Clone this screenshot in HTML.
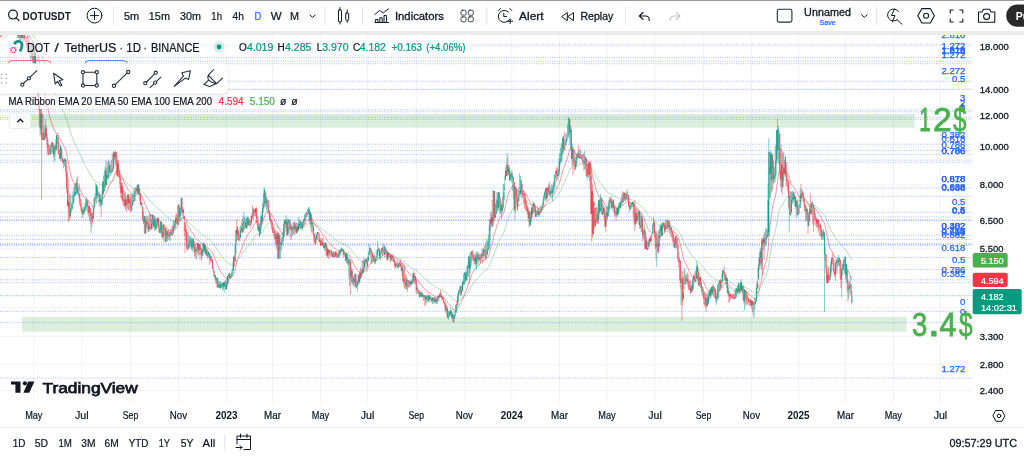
<!DOCTYPE html>
<html><head><meta charset="utf-8"><title>DOTUSDT chart</title>
<style>html,body{margin:0;padding:0;background:#fff;overflow:hidden;width:1024px;height:457px}svg{display:block}</style>
</head><body><svg width="1024" height="457" viewBox="0 0 1024 457"><rect width="1024" height="457" fill="#fff"/><defs><clipPath id="cc"><rect x="0" y="35" width="972.5" height="368.5"/></clipPath></defs><g clip-path="url(#cc)"><path d="M33.8 35V403.5M81.8 35V403.5M130.5 35V403.5M178.5 35V403.5M226.5 35V403.5M272.5 35V403.5M320.5 35V403.5M367.5 35V403.5M416.3 35V403.5M464.3 35V403.5M511.8 35V403.5M559.5 35V403.5M607.0 35V403.5M655.0 35V403.5M703.5 35V403.5M751.5 35V403.5M798.6 35V403.5M845.6 35V403.5M893.3 35V403.5M940.4 35V403.5M0 46.4H972.5M0 89.3H972.5M0 115.7H972.5M0 146.8H972.5M0 184.9H972.5M0 220.4H972.5M0 248.9H972.5M0 307.7H972.5M0 336.2H972.5M0 364.3H972.5M0 390.6H972.5" stroke="#f2f3f5" stroke-width="1" fill="none"/><rect x="15.7" y="113.9" width="898.8" height="13.8" fill="#4caf50" fill-opacity="0.2"/><rect x="22" y="317" width="884.6" height="14.7" fill="#4caf50" fill-opacity="0.2"/><g stroke="#2962ff" stroke-opacity="0.38" stroke-width="1" stroke-dasharray="1 1.3" fill="none"><path d="M0 44.8H972.5"/><path d="M0 57.4H972.5"/><path d="M0 61.3H972.5"/><path d="M0 63.7H972.5"/><path d="M0 81.3H972.5"/><path d="M0 89.3H972.5"/><path d="M0 109.8H972.5"/><path d="M0 111.7H972.5"/><path d="M0 117.5H972.5"/><path d="M0 119.4H972.5"/><path d="M0 144.2H972.5"/><path d="M0 150.5H972.5"/><path d="M0 154.4H972.5"/><path d="M0 160.2H972.5"/><path d="M0 162.3H972.5"/><path d="M0 188.1H972.5"/><path d="M0 196.3H972.5"/><path d="M0 212.3H972.5"/><path d="M0 216.9H972.5"/><path d="M0 219.8H972.5"/><path d="M0 220.6H972.5"/><path d="M0 235.3H972.5"/><path d="M0 239.5H972.5"/><path d="M0 243.6H972.5"/><path d="M0 244.5H972.5"/><path d="M0 245.4H972.5"/><path d="M0 257.5H972.5"/><path d="M0 269.4H972.5"/><path d="M0 279.8H972.5"/><path d="M0 282.7H972.5"/><path d="M0 311.4H972.5"/><path d="M0 322.6H972.5"/><path d="M0 378.1H972.5"/></g><path d="M0 295.7H972.5" stroke="#089981" stroke-opacity="0.5" stroke-width="1" stroke-dasharray="1 1.3"/><polyline points="0.1,40.2 0.9,39.9 1.7,39.4 2.5,39.0 3.2,38.7 4.0,37.6 4.8,36.9 5.6,36.3 6.4,36.0 7.2,35.3 7.9,34.2 8.7,33.4 9.5,33.1 10.3,32.0 11.1,31.4 11.9,30.8 12.6,29.8 13.4,28.9 14.2,28.2 15.0,27.0 15.8,26.7 16.6,26.7 17.3,26.9 18.1,27.2 18.9,26.8 19.7,27.4 20.5,27.8 21.3,27.9 22.0,28.3 22.8,28.6 23.6,28.6 24.4,29.0 25.2,29.4 26.0,29.8 26.7,30.4 27.5,30.8 28.3,31.4 29.1,32.1 29.9,32.9 30.7,33.6 31.4,34.2 32.2,34.6 33.0,35.6 33.8,36.6 34.6,37.1 35.4,38.4 36.2,39.6 36.9,40.8 37.7,42.3 38.5,44.3 39.3,46.4 40.1,49.0 40.9,51.1 41.6,53.8 42.4,56.5 43.2,58.9 44.0,61.5 44.8,63.9 45.6,66.0 46.3,68.3 47.1,70.8 47.9,73.3 48.7,75.9 49.5,78.4 50.3,80.6 51.0,82.8 51.8,84.8 52.6,86.8 53.4,89.0 54.2,91.0 55.0,92.9 55.7,94.8 56.5,96.2 57.3,97.6 58.1,99.4 58.9,101.2 59.7,103.1 60.4,104.6 61.2,106.4 62.0,108.2 62.8,110.1 63.6,111.8 64.4,113.4 65.1,115.0 65.9,116.9 66.7,119.2 67.5,121.9 68.3,124.5 69.1,127.3 69.8,130.1 70.6,132.5 71.4,135.0 72.2,137.2 73.0,139.4 73.8,141.2 74.5,143.0 75.3,144.7 76.1,146.1 76.9,147.5 77.7,149.1 78.5,150.7 79.2,152.4 80.0,154.1 80.8,155.9 81.6,157.8 82.4,159.6 83.2,161.4 84.0,163.1 84.7,164.6 85.5,166.1 86.3,167.3 87.1,168.5 87.9,169.9 88.7,171.4 89.4,172.6 90.2,174.1 91.0,175.5 91.8,177.0 92.6,178.6 93.4,179.6 94.1,180.3 94.9,181.0 95.7,181.6 96.5,181.7 97.3,182.2 98.1,182.7 98.8,183.1 99.6,183.8 100.4,184.4 101.2,185.2 102.0,185.5 102.8,185.4 103.5,185.7 104.3,185.8 105.1,185.2 105.9,185.2 106.7,184.8 107.5,184.5 108.2,184.0 109.0,183.2 109.8,182.7 110.6,182.3 111.4,181.9 112.2,181.4 112.9,181.0 113.7,179.7 114.5,178.8 115.3,177.7 116.1,176.9 116.9,176.8 117.6,176.3 118.4,176.1 119.2,176.0 120.0,176.3 120.8,177.0 121.6,177.3 122.3,178.1 123.1,179.0 123.9,179.7 124.7,180.7 125.5,181.4 126.3,182.2 127.0,183.0 127.8,183.4 128.6,184.2 129.4,184.7 130.2,185.4 131.0,186.4 131.8,187.1 132.5,187.6 133.3,188.1 134.1,188.6 134.9,188.7 135.7,188.7 136.5,188.8 137.2,188.6 138.0,188.8 138.8,188.7 139.6,188.8 140.4,189.4 141.2,190.0 141.9,190.5 142.7,191.5 143.5,192.6 144.3,193.5 145.1,194.9 145.9,195.9 146.6,196.9 147.4,197.8 148.2,199.0 149.0,200.0 149.8,201.0 150.6,202.0 151.3,202.9 152.1,203.3 152.9,203.9 153.7,204.7 154.5,205.3 155.3,206.2 156.0,206.9 156.8,207.5 157.6,207.9 158.4,208.6 159.2,209.5 160.0,210.3 160.7,210.7 161.5,211.5 162.3,212.4 163.1,212.9 163.9,213.4 164.7,214.0 165.4,215.1 166.2,216.0 167.0,216.6 167.8,217.3 168.6,218.0 169.4,218.6 170.1,219.1 170.9,219.6 171.7,220.2 172.5,220.7 173.3,221.0 174.1,221.3 174.8,221.3 175.6,221.2 176.4,221.2 177.2,221.3 178.0,220.6 178.8,220.1 179.5,219.9 180.3,219.6 181.1,218.7 181.9,218.4 182.7,218.1 183.5,217.8 184.3,217.8 185.0,218.3 185.8,218.8 186.6,219.8 187.4,220.9 188.2,221.8 189.0,222.6 189.7,223.2 190.5,223.8 191.3,224.7 192.1,225.5 192.9,226.0 193.7,226.8 194.4,227.7 195.2,228.5 196.0,229.3 196.8,230.0 197.6,230.5 198.4,231.3 199.1,231.8 199.9,232.4 200.7,233.0 201.5,233.8 202.3,234.5 203.1,234.8 203.8,235.4 204.6,235.8 205.4,236.5 206.2,237.0 207.0,237.7 207.8,238.3 208.5,238.8 209.3,239.5 210.1,240.2 210.9,240.9 211.7,241.6 212.5,242.6 213.2,243.5 214.0,244.7 214.8,245.8 215.6,247.0 216.4,248.1 217.2,249.5 217.9,250.8 218.7,251.9 219.5,253.2 220.3,254.3 221.1,255.5 221.9,256.6 222.6,257.6 223.4,258.6 224.2,259.5 225.0,260.4 225.8,261.4 226.6,262.2 227.3,262.7 228.1,263.3 228.9,263.7 229.7,264.2 230.5,264.6 231.3,265.1 232.1,265.4 232.8,265.5 233.6,265.2 234.4,265.0 235.2,264.1 236.0,262.6 236.8,261.4 237.5,259.9 238.3,259.0 239.1,258.2 239.9,257.5 240.7,256.3 241.5,255.1 242.2,254.2 243.0,252.8 243.8,251.5 244.6,250.2 245.4,249.3 246.2,248.4 246.9,247.1 247.7,246.2 248.5,245.1 249.3,244.1 250.1,243.3 250.9,242.6 251.6,241.5 252.4,240.4 253.2,239.1 254.0,237.8 254.8,236.8 255.6,235.5 256.3,234.9 257.1,234.4 257.9,234.2 258.7,233.9 259.5,234.0 260.3,233.7 261.0,233.0 261.8,232.6 262.6,231.6 263.4,230.4 264.2,228.6 265.0,227.1 265.7,226.1 266.5,225.0 267.3,224.0 268.1,223.5 268.9,223.1 269.7,222.9 270.4,222.9 271.2,222.8 272.0,223.0 272.8,223.4 273.6,223.7 274.4,224.1 275.1,224.6 275.9,225.0 276.7,225.7 277.5,226.0 278.3,227.2 279.1,227.5 279.9,228.1 280.6,228.6 281.4,229.2 282.2,229.8 283.0,230.0 283.8,229.8 284.6,229.4 285.3,229.2 286.1,228.9 286.9,229.1 287.7,228.8 288.5,228.5 289.3,228.1 290.0,228.1 290.8,228.1 291.6,228.2 292.4,228.2 293.2,228.3 294.0,228.1 294.7,228.0 295.5,228.1 296.3,228.3 297.1,228.2 297.9,228.3 298.7,228.1 299.4,228.1 300.2,227.8 301.0,227.7 301.8,227.7 302.6,227.5 303.4,227.2 304.1,226.9 304.9,226.4 305.7,225.9 306.5,225.4 307.3,224.9 308.1,224.2 308.8,223.5 309.6,223.4 310.4,223.0 311.2,223.0 312.0,223.1 312.8,223.1 313.5,223.5 314.3,224.0 315.1,224.8 315.9,225.3 316.7,225.7 317.5,225.9 318.2,226.2 319.0,226.8 319.8,227.3 320.6,228.0 321.4,228.5 322.2,229.1 322.9,229.7 323.7,230.3 324.5,230.9 325.3,231.3 326.1,232.0 326.9,232.8 327.6,233.4 328.4,234.2 329.2,234.8 330.0,235.4 330.8,235.9 331.6,236.6 332.4,237.4 333.1,238.0 333.9,238.7 334.7,239.3 335.5,239.8 336.3,240.4 337.1,241.0 337.8,241.6 338.6,242.0 339.4,242.4 340.2,242.8 341.0,243.0 341.8,243.2 342.5,243.5 343.3,243.9 344.1,244.2 344.9,244.6 345.7,245.2 346.5,245.5 347.2,246.1 348.0,246.7 348.8,247.2 349.6,247.7 350.4,248.7 351.2,249.5 351.9,250.7 352.7,251.7 353.5,252.7 354.3,253.8 355.1,254.5 355.9,255.7 356.6,256.7 357.4,257.7 358.2,258.3 359.0,259.2 359.8,259.7 360.6,260.4 361.3,261.0 362.1,261.3 362.9,261.7 363.7,262.0 364.5,262.0 365.3,261.9 366.0,261.8 366.8,261.8 367.6,262.0 368.4,261.7 369.2,261.4 370.0,260.8 370.7,260.4 371.5,260.1 372.3,259.9 373.1,259.8 373.9,259.8 374.7,259.8 375.4,259.9 376.2,259.9 377.0,259.7 377.8,259.3 378.6,258.9 379.4,258.9 380.2,258.6 380.9,258.4 381.7,258.0 382.5,257.7 383.3,257.4 384.1,257.2 384.9,256.8 385.6,256.5 386.4,256.2 387.2,256.3 388.0,256.2 388.8,256.1 389.6,256.1 390.3,256.2 391.1,256.3 391.9,256.2 392.7,256.3 393.5,256.4 394.3,256.6 395.0,257.0 395.8,257.3 396.6,257.6 397.4,257.9 398.2,258.3 399.0,258.4 399.7,258.7 400.5,259.0 401.3,259.4 402.1,259.7 402.9,260.5 403.7,261.2 404.4,261.9 405.2,262.7 406.0,263.6 406.8,264.2 407.6,264.8 408.4,265.4 409.1,266.1 409.9,266.8 410.7,267.3 411.5,267.9 412.3,268.4 413.1,268.6 413.8,269.0 414.6,269.5 415.4,269.7 416.2,270.5 417.0,271.2 417.8,271.8 418.5,272.5 419.3,273.4 420.1,274.3 420.9,275.0 421.7,275.8 422.5,276.5 423.2,277.2 424.0,277.9 424.8,278.6 425.6,279.4 426.4,280.0 427.2,280.7 428.0,281.4 428.7,282.0 429.5,282.6 430.3,283.2 431.1,283.8 431.9,284.4 432.7,284.9 433.4,285.4 434.2,286.0 435.0,286.5 435.8,287.1 436.6,287.6 437.4,288.0 438.1,288.3 438.9,288.7 439.7,288.9 440.5,289.1 441.3,289.4 442.1,289.7 442.8,290.1 443.6,290.6 444.4,291.1 445.2,291.8 446.0,292.4 446.8,292.9 447.5,293.9 448.3,294.7 449.1,295.3 449.9,296.0 450.7,296.6 451.5,297.4 452.2,298.0 453.0,298.9 453.8,299.7 454.6,300.3 455.4,300.8 456.2,301.0 456.9,301.1 457.7,300.9 458.5,300.5 459.3,300.1 460.1,299.6 460.9,299.3 461.6,299.0 462.4,298.3 463.2,297.7 464.0,296.7 464.8,295.7 465.6,295.1 466.3,294.2 467.1,293.0 467.9,292.0 468.7,290.4 469.5,289.5 470.3,288.4 471.0,286.7 471.8,285.4 472.6,284.2 473.4,283.1 474.2,282.2 475.0,281.1 475.8,280.4 476.5,279.4 477.3,278.4 478.1,277.6 478.9,276.9 479.7,276.1 480.5,275.3 481.2,274.5 482.0,273.6 482.8,272.9 483.6,272.0 484.4,271.0 485.2,270.3 485.9,269.8 486.7,269.3 487.5,268.5 488.3,267.6 489.1,266.5 489.9,264.4 490.6,262.6 491.4,260.6 492.2,259.0 493.0,257.1 493.8,253.9 494.6,252.3 495.3,250.7 496.1,248.5 496.9,246.3 497.7,244.7 498.5,242.3 499.3,240.3 500.0,239.1 500.8,237.6 501.6,236.5 502.4,235.3 503.2,233.8 504.0,232.0 504.7,230.0 505.5,227.3 506.3,225.0 507.1,222.2 507.9,219.9 508.7,217.5 509.4,215.9 510.2,214.1 511.0,212.3 511.8,210.8 512.6,209.3 513.4,208.1 514.1,208.1 514.9,207.2 515.7,206.4 516.5,206.0 517.3,206.2 518.1,206.1 518.8,205.6 519.6,205.1 520.4,204.5 521.2,203.4 522.0,203.0 522.8,202.7 523.5,202.3 524.3,202.0 525.1,202.1 525.9,202.2 526.7,202.5 527.5,202.8 528.3,203.4 529.0,203.7 529.8,204.5 530.6,205.0 531.4,205.1 532.2,205.4 533.0,205.5 533.7,205.4 534.5,205.5 535.3,205.9 536.1,206.3 536.9,206.5 537.7,206.7 538.4,207.0 539.2,207.2 540.0,207.4 540.8,207.6 541.6,207.7 542.4,207.6 543.1,207.3 543.9,206.9 544.7,206.2 545.5,205.5 546.3,205.2 547.1,204.7 547.8,204.0 548.6,203.5 549.4,203.1 550.2,202.6 551.0,202.2 551.8,201.8 552.5,201.3 553.3,200.8 554.1,200.0 554.9,199.0 555.7,197.8 556.5,196.8 557.2,195.9 558.0,194.9 558.8,193.8 559.6,192.4 560.4,191.1 561.2,189.5 561.9,187.6 562.7,185.4 563.5,183.8 564.3,182.3 565.1,180.8 565.9,179.2 566.6,177.4 567.4,175.7 568.2,174.0 569.0,171.4 569.8,169.7 570.6,167.9 571.3,167.6 572.1,166.8 572.9,166.4 573.7,166.2 574.5,166.1 575.3,166.2 576.1,166.0 576.8,165.5 577.6,165.1 578.4,164.8 579.2,164.5 580.0,164.2 580.8,164.0 581.5,163.8 582.3,163.6 583.1,163.6 583.9,163.5 584.7,163.4 585.5,163.2 586.2,163.7 587.0,164.1 587.8,164.1 588.6,164.5 589.4,164.4 590.2,164.6 590.9,166.3 591.7,167.9 592.5,170.1 593.3,171.2 594.1,172.5 594.9,174.2 595.6,175.8 596.4,177.4 597.2,178.7 598.0,180.2 598.8,180.9 599.6,182.1 600.3,183.0 601.1,183.6 601.9,184.7 602.7,185.7 603.5,186.5 604.3,187.6 605.0,189.0 605.8,190.3 606.6,191.2 607.4,192.1 608.2,192.8 609.0,193.1 609.7,193.4 610.5,193.7 611.3,194.2 612.1,194.4 612.9,194.7 613.7,195.2 614.4,195.8 615.2,196.4 616.0,197.1 616.8,197.5 617.6,198.1 618.4,198.4 619.1,198.6 619.9,198.9 620.7,199.1 621.5,199.1 622.3,199.2 623.1,199.2 623.9,199.0 624.6,198.9 625.4,198.9 626.2,198.7 627.0,198.6 627.8,198.5 628.6,198.8 629.3,199.2 630.1,199.5 630.9,199.7 631.7,199.9 632.5,200.0 633.3,200.2 634.0,200.7 634.8,201.5 635.6,202.0 636.4,202.7 637.2,203.2 638.0,203.7 638.7,203.9 639.5,204.7 640.3,205.5 641.1,206.1 641.9,206.5 642.7,207.5 643.4,208.5 644.2,209.3 645.0,210.7 645.8,211.8 646.6,213.1 647.4,214.4 648.1,215.6 648.9,216.5 649.7,217.3 650.5,218.2 651.3,219.0 652.1,219.6 652.8,219.9 653.6,220.0 654.4,220.5 655.2,221.1 656.0,222.1 656.8,223.0 657.5,223.7 658.3,224.8 659.1,225.3 659.9,225.6 660.7,225.6 661.5,226.0 662.2,226.0 663.0,225.8 663.8,225.8 664.6,226.0 665.4,226.1 666.2,226.2 666.9,226.2 667.7,225.9 668.5,225.7 669.3,225.8 670.1,225.9 670.9,225.9 671.7,226.1 672.4,226.4 673.2,226.9 674.0,227.7 674.8,228.3 675.6,228.6 676.4,228.9 677.1,229.5 677.9,230.5 678.7,231.7 679.5,232.7 680.3,234.4 681.1,236.0 681.8,237.6 682.6,239.7 683.4,241.5 684.2,243.1 685.0,244.4 685.8,245.6 686.5,246.8 687.3,248.0 688.1,249.3 688.9,250.7 689.7,252.1 690.5,253.5 691.2,254.7 692.0,256.0 692.8,256.8 693.6,257.6 694.4,258.4 695.2,259.2 695.9,260.0 696.7,260.3 697.5,260.7 698.3,261.6 699.1,262.4 699.9,263.0 700.6,263.7 701.4,264.6 702.2,265.5 703.0,266.4 703.8,267.6 704.6,268.7 705.3,270.0 706.1,271.2 706.9,272.2 707.7,273.4 708.5,274.2 709.3,274.8 710.0,275.6 710.8,276.1 711.6,276.7 712.4,277.1 713.2,277.5 714.0,277.9 714.7,278.4 715.5,279.1 716.3,279.8 717.1,280.5 717.9,280.7 718.7,280.8 719.4,280.8 720.2,281.0 721.0,281.1 721.8,281.1 722.6,280.7 723.4,280.3 724.2,280.0 724.9,280.0 725.7,280.0 726.5,279.9 727.3,280.4 728.1,280.7 728.9,281.3 729.6,281.8 730.4,282.3 731.2,282.9 732.0,283.4 732.8,283.9 733.6,284.4 734.3,285.0 735.1,285.5 735.9,285.7 736.7,285.8 737.5,286.0 738.3,285.9 739.0,286.2 739.8,286.3 740.6,286.1 741.4,286.3 742.2,286.2 743.0,286.5 743.7,287.1 744.5,287.2 745.3,287.3 746.1,287.8 746.9,288.2 747.7,288.6 748.4,289.1 749.2,289.6 750.0,290.0 750.8,290.6 751.6,291.0 752.4,291.5 753.1,291.9 753.9,292.3 754.7,292.7 755.5,293.1 756.3,292.9 757.1,292.5 757.8,292.4 758.6,291.2 759.4,289.8 760.2,288.1 761.0,287.0 761.8,285.0 762.5,283.1 763.3,281.1 764.1,279.4 764.9,277.7 765.7,276.0 766.5,274.3 767.2,272.5 768.0,269.1 768.8,262.6 769.6,258.1 770.4,252.6 771.2,249.1 772.0,244.1 772.7,240.3 773.5,237.5 774.3,234.6 775.1,231.8 775.9,228.4 776.7,223.2 777.4,219.7 778.2,215.0 779.0,210.9 779.8,209.1 780.6,207.9 781.4,206.0 782.1,205.2 782.9,203.9 783.7,202.3 784.5,201.0 785.3,199.0 786.1,198.1 786.8,197.4 787.6,196.7 788.4,196.6 789.2,196.6 790.0,197.2 790.8,197.9 791.5,198.0 792.3,198.1 793.1,197.9 793.9,198.0 794.7,198.0 795.5,198.4 796.2,198.5 797.0,198.9 797.8,199.5 798.6,200.1 799.4,200.7 800.2,200.5 800.9,200.5 801.7,200.2 802.5,200.1 803.3,200.1 804.1,200.3 804.9,200.7 805.6,201.2 806.4,201.5 807.2,202.1 808.0,203.1 808.8,203.8 809.6,204.1 810.3,204.5 811.1,204.7 811.9,204.7 812.7,204.7 813.5,204.9 814.3,205.4 815.0,205.9 815.8,206.6 816.6,207.3 817.4,207.9 818.2,208.6 819.0,209.4 819.8,210.1 820.5,210.9 821.3,212.0 822.1,212.9 822.9,213.8 823.7,214.6 824.5,215.4 825.2,216.9 826.0,218.7 826.8,220.9 827.6,222.8 828.4,224.8 829.2,226.8 829.9,228.6 830.7,230.0 831.5,231.2 832.3,232.3 833.1,233.5 833.9,235.0 834.6,236.5 835.4,237.6 836.2,238.6 837.0,239.6 837.8,240.5 838.6,241.4 839.3,242.2 840.1,243.4 840.9,244.9 841.7,245.9 842.5,246.9 843.3,247.7 844.0,248.3 844.8,248.8 845.6,249.9 846.4,250.6 847.2,251.9 848.0,253.3 848.7,254.7 849.5,256.0 850.3,257.2 851.1,258.7 851.9,260.1" fill="none" stroke="#4caf50" stroke-opacity="0.4" stroke-width="1"/><polyline points="0.1,36.7 0.9,36.4 1.7,35.5 2.5,34.9 3.2,34.6 4.0,32.4 4.8,31.1 5.6,30.4 6.4,30.3 7.2,29.2 7.9,27.2 8.7,26.0 9.5,25.8 10.3,24.0 11.1,23.4 11.9,22.7 12.6,21.2 13.4,19.8 14.2,19.0 15.0,17.2 15.8,17.5 16.6,18.2 17.3,19.4 18.1,20.9 18.9,20.6 19.7,22.4 20.5,23.9 21.3,24.6 22.0,25.9 22.8,26.7 23.6,27.0 24.4,28.1 25.2,29.2 26.0,30.2 26.7,31.6 27.5,32.5 28.3,33.8 29.1,35.2 29.9,36.8 30.7,38.3 31.4,39.4 32.2,39.8 33.0,41.8 33.8,43.7 34.6,44.4 35.4,46.8 36.2,49.1 36.9,51.4 37.7,54.1 38.5,58.2 39.3,62.5 40.1,67.8 40.9,71.7 41.6,77.0 42.4,82.1 43.2,86.3 44.0,90.7 44.8,94.7 45.6,97.6 46.3,101.0 47.1,104.8 47.9,108.8 48.7,112.6 49.5,116.1 50.3,119.0 51.0,121.5 51.8,123.4 52.6,125.4 53.4,128.0 54.2,130.0 55.0,131.4 55.7,133.0 56.5,133.3 57.3,133.6 58.1,135.0 58.9,136.6 59.7,138.6 60.4,139.3 61.2,140.9 62.0,142.7 62.8,144.5 63.6,145.9 64.4,147.2 65.1,148.2 65.9,150.4 66.7,153.7 67.5,158.0 68.3,162.1 69.1,166.5 69.8,170.6 70.6,173.9 71.4,176.9 72.2,179.3 73.0,181.5 73.8,182.7 74.5,183.6 75.3,184.6 76.1,184.4 76.9,184.8 77.7,185.6 78.5,186.4 79.2,187.6 80.0,189.1 80.8,190.8 81.6,192.6 82.4,194.3 83.2,196.0 84.0,197.3 84.7,198.2 85.5,198.9 86.3,199.2 87.1,199.3 87.9,200.0 88.7,201.2 89.4,201.6 90.2,202.9 91.0,203.9 91.8,205.4 92.6,206.9 93.4,207.0 94.1,206.2 94.9,205.3 95.7,204.5 96.5,202.5 97.3,201.8 98.1,201.2 98.8,200.5 99.6,200.6 100.4,200.5 101.2,200.8 102.0,200.3 102.8,198.4 103.5,198.0 104.3,197.1 105.1,194.3 105.9,193.5 106.7,191.6 107.5,190.2 108.2,188.4 109.0,186.1 109.8,184.6 110.6,183.4 111.4,182.3 112.2,181.0 112.9,180.0 113.7,177.2 114.5,175.2 115.3,172.8 116.1,171.4 116.9,171.8 117.6,171.0 118.4,171.0 119.2,171.4 120.0,172.5 120.8,174.4 121.6,175.5 122.3,177.6 123.1,179.7 123.9,181.5 124.7,183.6 125.5,185.1 126.3,186.8 127.0,188.3 127.8,188.9 128.6,190.2 129.4,191.0 130.2,192.2 131.0,194.0 131.8,195.0 132.5,195.6 133.3,196.0 134.1,196.5 134.9,195.9 135.7,195.3 136.5,194.9 137.2,193.9 138.0,193.9 138.8,193.0 139.6,193.0 140.4,194.1 141.2,195.1 141.9,195.7 142.7,197.9 143.5,200.1 144.3,201.5 145.1,204.3 145.9,205.9 146.6,207.5 147.4,208.9 148.2,210.9 149.0,212.3 149.8,213.8 150.6,215.1 151.3,216.0 152.1,215.8 152.9,216.2 153.7,217.1 154.5,217.4 155.3,218.4 156.0,219.2 156.8,219.6 157.6,219.4 158.4,220.1 159.2,221.2 160.0,222.0 160.7,222.0 161.5,222.9 162.3,224.2 163.1,224.2 163.9,224.6 164.7,225.1 165.4,226.6 166.2,228.0 167.0,228.2 167.8,228.9 168.6,229.6 169.4,230.0 170.1,230.2 170.9,230.4 171.7,230.8 172.5,231.2 173.3,230.9 174.1,230.6 174.8,229.9 175.6,228.7 176.4,227.9 177.2,227.5 178.0,225.3 178.8,223.5 179.5,222.8 180.3,221.8 181.1,219.4 181.9,218.4 182.7,217.8 183.5,217.0 184.3,217.1 185.0,218.4 185.8,219.7 186.6,222.1 187.4,224.4 188.2,226.3 189.0,227.9 189.7,229.0 190.5,230.0 191.3,231.6 192.1,233.0 192.9,233.5 193.7,234.7 194.4,236.3 195.2,237.5 196.0,238.6 196.8,239.7 197.6,240.0 198.4,241.0 199.1,241.2 199.9,241.8 200.7,242.5 201.5,243.7 202.3,244.5 203.1,244.4 203.8,244.9 204.6,245.0 205.4,245.9 206.2,246.2 207.0,247.1 207.8,247.8 208.5,248.2 209.3,249.1 210.1,249.8 210.9,250.8 211.7,251.6 212.5,253.2 213.2,254.5 214.0,256.4 214.8,258.1 215.6,260.1 216.4,261.7 217.2,264.0 217.9,265.9 218.7,267.5 219.5,269.4 220.3,270.7 221.1,272.1 221.9,273.4 222.6,274.3 223.4,275.5 224.2,276.1 225.0,276.8 225.8,277.9 226.6,278.5 227.3,278.3 228.1,278.1 228.9,277.7 229.7,277.6 230.5,277.5 231.3,277.5 232.1,276.9 232.8,276.1 233.6,274.2 234.4,272.9 235.2,269.9 236.0,265.6 236.8,262.4 237.5,258.7 238.3,256.6 239.1,254.9 239.9,253.4 240.7,251.1 241.5,248.8 242.2,247.1 243.0,244.7 243.8,242.4 244.6,240.3 245.4,239.0 246.2,238.0 246.9,236.0 247.7,234.9 248.5,233.5 249.3,232.3 250.1,231.6 250.9,231.0 251.6,229.6 252.4,228.3 253.2,226.3 254.0,224.7 254.8,223.5 255.6,222.0 256.3,221.7 257.1,221.8 257.9,222.6 258.7,222.9 259.5,224.1 260.3,224.5 261.0,223.7 261.8,223.6 262.6,222.1 263.4,220.3 264.2,217.1 265.0,214.6 265.7,213.6 266.5,212.3 267.3,211.2 268.1,211.3 268.9,211.3 269.7,212.1 270.4,213.0 271.2,213.8 272.0,215.1 272.8,216.7 273.6,218.1 274.4,219.4 275.1,221.2 275.9,222.5 276.7,224.4 277.5,225.2 278.3,228.1 279.1,228.8 279.9,230.2 280.6,231.3 281.4,232.5 282.2,233.5 283.0,233.8 283.8,232.9 284.6,231.6 285.3,230.9 286.1,229.9 286.9,230.4 287.7,229.6 288.5,228.7 289.3,227.8 290.0,227.6 290.8,227.7 291.6,228.0 292.4,228.2 293.2,228.4 294.0,227.8 294.7,227.7 295.5,227.8 296.3,228.4 297.1,228.2 297.9,228.5 298.7,228.0 299.4,227.9 300.2,227.3 301.0,227.0 301.8,227.0 302.6,226.6 303.4,226.0 304.1,225.5 304.9,224.5 305.7,223.4 306.5,222.4 307.3,221.5 308.1,220.2 308.8,219.0 309.6,219.1 310.4,218.4 311.2,219.0 312.0,219.5 312.8,219.8 313.5,221.1 314.3,222.6 315.1,224.6 315.9,225.9 316.7,226.7 317.5,227.2 318.2,227.8 319.0,229.0 319.8,230.1 320.6,231.5 321.4,232.5 322.2,233.5 322.9,234.6 323.7,235.8 324.5,236.7 325.3,237.2 326.1,238.2 326.9,239.8 327.6,240.6 328.4,241.8 329.2,242.6 330.0,243.3 330.8,244.0 331.6,245.0 332.4,246.1 333.1,246.7 333.9,247.7 334.7,248.5 335.5,248.9 336.3,249.4 337.1,250.1 337.8,250.7 338.6,251.0 339.4,251.0 340.2,251.1 341.0,251.0 341.8,250.7 342.5,250.5 343.3,250.9 344.1,251.1 344.9,251.4 345.7,252.3 346.5,252.4 347.2,253.1 348.0,254.1 348.8,254.6 349.6,255.0 350.4,256.9 351.2,258.2 351.9,260.3 352.7,262.1 353.5,263.6 354.3,265.3 355.1,266.1 355.9,268.0 356.6,269.5 357.4,270.7 358.2,271.1 359.0,272.2 359.8,272.2 360.6,272.8 361.3,273.0 362.1,272.6 362.9,272.7 363.7,272.3 364.5,271.2 365.3,270.1 366.0,269.0 366.8,268.3 367.6,268.2 368.4,267.0 369.2,265.6 370.0,263.8 370.7,262.4 371.5,261.4 372.3,261.0 373.1,260.5 373.9,260.4 374.7,260.4 375.4,260.5 376.2,260.5 377.0,260.1 377.8,259.1 378.6,258.1 379.4,258.1 380.2,257.6 380.9,257.0 381.7,256.2 382.5,255.6 383.3,255.1 384.1,255.0 384.9,254.2 385.6,253.6 386.4,253.4 387.2,253.9 388.0,253.7 388.8,253.8 389.6,253.9 390.3,254.4 391.1,254.8 391.9,254.8 392.7,255.1 393.5,255.5 394.3,256.1 395.0,257.1 395.8,257.8 396.6,258.4 397.4,259.2 398.2,259.9 399.0,260.2 399.7,260.6 400.5,261.1 401.3,262.0 402.1,262.5 402.9,264.2 403.7,265.5 404.4,267.0 405.2,268.5 406.0,270.1 406.8,270.9 407.6,271.8 408.4,272.6 409.1,273.6 409.9,274.7 410.7,275.3 411.5,276.0 412.3,276.6 413.1,276.3 413.8,276.6 414.6,277.0 415.4,276.9 416.2,278.2 417.0,279.1 417.8,280.0 418.5,281.0 419.3,282.5 420.1,283.8 420.9,284.6 421.7,285.7 422.5,286.5 423.2,287.4 424.0,288.2 424.8,289.0 425.6,290.0 426.4,290.6 427.2,291.2 428.0,292.2 428.7,292.5 429.5,293.1 430.3,293.5 431.1,294.1 431.9,294.8 432.7,295.0 433.4,295.3 434.2,295.9 435.0,296.2 435.8,296.7 436.6,297.1 437.4,297.2 438.1,297.1 438.9,297.1 439.7,296.8 440.5,296.7 441.3,296.7 442.1,296.7 442.8,297.0 443.6,297.5 444.4,298.1 445.2,299.3 446.0,300.0 446.8,300.7 447.5,302.3 448.3,303.6 449.1,304.4 449.9,305.3 450.7,305.9 451.5,307.0 452.2,307.7 453.0,309.0 453.8,310.0 454.6,310.5 455.4,310.9 456.2,310.3 456.9,309.7 457.7,308.4 458.5,306.7 459.3,305.1 460.1,303.2 460.9,302.3 461.6,301.2 462.4,299.3 463.2,297.8 464.0,295.4 464.8,293.0 465.6,291.8 466.3,290.1 467.1,287.7 467.9,285.6 468.7,282.6 469.5,281.2 470.3,279.3 471.0,276.5 471.8,274.3 472.6,272.5 473.4,271.2 474.2,270.2 475.0,268.9 475.8,268.4 476.5,267.3 477.3,266.1 478.1,265.5 478.9,264.9 479.7,264.1 480.5,263.6 481.2,262.8 482.0,261.9 482.8,261.3 483.6,260.3 484.4,259.2 485.2,258.7 485.9,258.6 486.7,258.4 487.5,257.6 488.3,256.7 489.1,255.1 489.9,251.4 490.6,248.5 491.4,245.3 492.2,243.2 493.0,240.3 493.8,235.0 494.6,233.2 495.3,231.3 496.1,228.4 496.9,225.5 497.7,223.7 498.5,220.5 499.3,218.2 500.0,217.6 500.8,216.3 501.6,215.8 502.4,215.0 503.2,213.7 504.0,211.5 504.7,209.2 505.5,205.2 506.3,202.2 507.1,198.3 507.9,195.5 508.7,192.8 509.4,191.5 510.2,189.8 511.0,188.3 511.8,187.2 512.6,186.1 513.4,185.6 514.1,187.7 514.9,187.6 515.7,187.6 516.5,188.4 517.3,190.3 518.1,191.6 518.8,191.8 519.6,192.0 520.4,191.7 521.2,190.6 522.0,190.8 522.8,191.2 523.5,191.4 524.3,191.7 525.1,192.9 525.9,193.9 526.7,195.3 527.5,196.8 528.3,198.7 529.0,200.0 529.8,202.2 530.6,203.6 531.4,204.1 532.2,205.0 533.0,205.1 533.7,205.0 534.5,205.2 535.3,206.3 536.1,207.1 536.9,207.7 537.7,208.0 538.4,208.6 539.2,208.9 540.0,209.1 540.8,209.5 541.6,209.5 542.4,209.2 543.1,208.4 543.9,207.1 544.7,205.6 545.5,203.9 546.3,203.3 547.1,202.3 547.8,200.8 548.6,199.9 549.4,199.4 550.2,198.6 551.0,197.8 551.8,197.4 552.5,196.7 553.3,195.8 554.1,194.6 554.9,192.5 555.7,190.3 556.5,188.7 557.2,187.4 558.0,185.9 558.8,184.3 559.6,182.0 560.4,179.8 561.2,177.2 561.9,174.2 562.7,170.4 563.5,168.2 564.3,166.4 565.1,164.5 565.9,162.3 566.6,159.9 567.4,157.8 568.2,155.6 569.0,151.7 569.8,149.7 570.6,147.7 571.3,148.8 572.1,148.7 572.9,149.7 573.7,150.7 574.5,151.8 575.3,153.4 576.1,154.0 576.8,154.1 577.6,154.2 578.4,154.5 579.2,154.7 580.0,155.1 580.8,155.3 581.5,155.7 582.3,156.1 583.1,156.7 583.9,157.2 584.7,157.6 585.5,157.6 586.2,159.3 587.0,160.7 587.8,161.0 588.6,162.3 589.4,162.3 590.2,162.8 590.9,167.1 591.7,171.0 592.5,176.1 593.3,178.4 594.1,180.9 594.9,184.7 595.6,187.7 596.4,190.5 597.2,192.6 598.0,195.3 598.8,195.8 599.6,197.3 600.3,198.2 601.1,198.3 601.9,199.7 602.7,200.9 603.5,201.5 604.3,203.0 605.0,205.1 605.8,207.1 606.6,207.6 607.4,208.5 608.2,208.6 609.0,207.9 609.7,207.1 610.5,206.5 611.3,206.6 612.1,206.1 612.9,205.6 613.7,205.8 614.4,206.3 615.2,206.9 616.0,207.6 616.8,207.6 617.6,208.2 618.4,208.0 619.1,207.6 619.9,207.5 620.7,207.0 621.5,206.4 622.3,206.0 623.1,205.2 623.9,204.0 624.6,203.5 625.4,203.0 626.2,202.1 627.0,201.5 627.8,200.9 628.6,201.5 629.3,202.1 630.1,202.7 630.9,202.9 631.7,203.0 632.5,202.9 633.3,203.2 634.0,204.2 634.8,205.9 635.6,206.6 636.4,207.9 637.2,208.6 638.0,209.3 638.7,209.5 639.5,210.9 640.3,212.4 641.1,213.2 641.9,213.5 642.7,215.4 643.4,217.0 644.2,218.3 645.0,221.0 645.8,222.7 646.6,225.1 647.4,227.2 648.1,229.1 648.9,230.3 649.7,231.0 650.5,232.0 651.3,232.6 652.1,233.0 652.8,232.3 653.6,231.3 654.4,231.7 655.2,232.2 656.0,233.5 656.8,234.7 657.5,235.5 658.3,237.1 659.1,237.3 659.9,236.7 660.7,235.7 661.5,235.7 662.2,234.7 663.0,233.6 663.8,232.7 664.6,232.6 665.4,232.1 666.2,231.8 666.9,231.2 667.7,230.1 668.5,229.2 669.3,229.0 670.1,228.9 670.9,228.8 671.7,229.0 672.4,229.5 673.2,230.3 674.0,231.9 674.8,233.0 675.6,233.3 676.4,233.6 677.1,234.6 677.9,236.8 678.7,239.0 679.5,241.0 680.3,244.5 681.1,247.7 681.8,250.6 682.6,254.8 683.4,258.1 684.2,260.7 685.0,262.6 685.8,264.0 686.5,265.3 687.3,266.8 688.1,268.4 688.9,270.3 689.7,271.9 690.5,273.8 691.2,274.9 692.0,276.4 692.8,276.7 693.6,276.7 694.4,277.0 695.2,277.5 695.9,277.7 696.7,276.6 697.5,276.1 698.3,276.9 699.1,277.6 699.9,277.6 700.6,278.0 701.4,279.0 702.2,279.9 703.0,281.0 703.8,282.6 704.6,284.0 705.3,285.8 706.1,287.6 706.9,288.6 707.7,290.2 708.5,290.7 709.3,290.7 710.0,291.1 710.8,290.8 711.6,291.0 712.4,290.6 713.2,290.3 714.0,290.0 714.7,290.2 715.5,291.0 716.3,291.6 717.1,292.2 717.9,291.5 718.7,290.7 719.4,289.7 720.2,289.6 721.0,289.0 721.8,288.2 722.6,286.4 723.4,284.9 724.2,283.8 724.9,283.2 725.7,283.0 726.5,282.5 727.3,283.5 728.1,283.8 728.9,285.0 729.6,285.9 730.4,286.9 731.2,287.8 732.0,288.6 732.8,289.5 733.6,290.2 734.3,291.0 735.1,291.7 735.9,291.7 736.7,291.3 737.5,291.3 738.3,290.5 739.0,290.7 739.8,290.6 740.6,289.7 741.4,289.8 742.2,289.4 743.0,289.8 743.7,290.8 744.5,290.7 745.3,290.8 746.1,291.5 746.9,292.2 747.7,292.9 748.4,293.7 749.2,294.4 750.0,295.0 750.8,295.9 751.6,296.4 752.4,297.2 753.1,297.7 753.9,298.1 754.7,298.5 755.5,299.0 756.3,297.9 757.1,296.5 757.8,295.7 758.6,292.6 759.4,288.9 760.2,284.9 761.0,282.8 761.8,278.3 762.5,274.7 763.3,270.8 764.1,267.9 764.9,265.1 765.7,262.4 766.5,259.8 767.2,257.2 768.0,251.0 768.8,238.6 769.6,231.4 770.4,222.2 771.2,217.7 772.0,210.5 772.7,205.8 773.5,203.1 774.3,200.3 775.1,197.7 775.9,193.8 776.7,186.5 777.4,182.7 778.2,176.8 779.0,172.0 779.8,171.9 780.6,172.6 781.4,171.8 782.1,173.2 782.9,173.3 783.7,172.8 784.5,172.8 785.3,171.2 786.1,171.6 786.8,172.5 787.6,173.3 788.4,175.3 789.2,177.0 790.0,180.3 790.8,183.1 791.5,184.7 792.3,185.9 793.1,186.5 793.9,187.6 794.7,188.5 795.5,190.1 796.2,191.1 797.0,192.6 797.8,194.6 798.6,196.3 799.4,197.8 800.2,197.5 800.9,197.5 801.7,197.1 802.5,196.8 803.3,197.0 804.1,197.6 804.9,198.7 805.6,199.9 806.4,200.6 807.2,201.9 808.0,204.0 808.8,205.6 809.6,205.9 810.3,206.6 811.1,206.6 811.9,206.2 812.7,205.9 813.5,206.1 814.3,206.8 815.0,207.8 815.8,208.9 816.6,210.2 817.4,211.1 818.2,212.5 819.0,213.8 819.8,214.9 820.5,216.2 821.3,218.0 822.1,219.6 822.9,221.1 823.7,222.2 824.5,223.3 825.2,226.2 826.0,229.9 826.8,234.4 827.6,238.0 828.4,241.6 829.2,245.1 829.9,248.1 830.7,249.8 831.5,250.8 832.3,251.8 833.1,253.0 833.9,254.9 834.6,257.0 835.4,257.8 836.2,258.2 837.0,258.9 837.8,259.5 838.6,259.9 839.3,260.0 840.1,261.5 840.9,263.5 841.7,264.4 842.5,265.2 843.3,265.4 844.0,265.1 844.8,264.7 845.6,266.0 846.4,266.3 847.2,268.0 848.0,270.3 848.7,272.3 849.5,274.0 850.3,275.4 851.1,277.5 851.9,279.6" fill="none" stroke="#f23645" stroke-opacity="0.5" stroke-width="1"/><path d="M0.89 26.94V37.87M2.46 23.48V32.59M3.24 18.64V34.64M4.81 11.64V32.30M5.59 11.81V28.43M6.37 18.55V30.11M8.72 4.90V26.18M9.51 1.20V24.57M11.08 1.49V22.24M14.21 0.84V16.88M15.78 3.89V26.52M16.56 13.85V32.66M17.34 16.40V38.50M18.13 24.08V44.00M19.70 19.24V42.37M22.05 26.48V39.50M24.40 29.29V41.57M25.18 36.60V41.93M25.96 36.85V47.27M26.75 36.53V47.68M28.31 38.67V49.94M29.10 36.69V52.36M29.88 41.19V55.37M33.02 42.26V64.06M33.80 47.75V67.28M35.37 52.26V75.50M36.93 68.77V81.04M37.72 73.00V96.06M38.50 85.97V110.38M39.29 103.17V126.37M40.07 109.48V136.37M41.64 108.00V200.00M42.42 113.42V139.95M43.99 127.27V140.00M46.34 125.44V140.35M47.12 134.26V148.29M47.90 139.47V156.00M48.69 143.78V154.92M49.47 144.99V154.62M52.61 141.96V153.56M53.39 142.89V157.66M55.74 138.86V152.90M57.31 133.00V143.94M58.09 137.00V155.06M58.88 142.35V154.48M59.66 149.02V159.18M61.23 147.68V159.38M62.01 151.43V161.52M62.79 158.40V163.58M65.93 159.83V176.74M66.71 165.95V192.95M67.49 171.38V206.10M68.28 178.00V222.00M69.06 193.85V220.66M69.85 192.47V220.14M75.33 185.15V196.62M76.90 178.29V191.64M77.68 176.00V194.12M79.25 183.43V202.35M80.03 193.09V206.18M80.82 199.12V210.60M81.60 203.24V214.04M83.17 207.07V215.69M87.87 201.36V213.78M88.65 205.70V216.27M90.22 208.24V223.85M91.79 211.55V227.01M92.57 212.13V222.73M97.27 186.77V199.18M98.06 191.01V197.72M99.62 193.16V206.60M101.19 198.34V217.00M103.54 175.52V193.95M105.89 160.00V185.52M107.46 161.85V179.30M109.81 161.65V173.68M111.38 160.20V173.30M112.94 152.59V170.46M114.51 151.96V160.58M116.08 151.77V165.82M116.86 154.80V175.72M118.43 159.95V176.94M119.21 168.41V178.64M120.00 173.53V188.14M120.78 177.67V198.26M122.35 182.41V202.26M123.13 186.25V204.57M124.70 190.60V207.27M126.26 196.56V212.00M128.62 193.91V210.44M130.18 194.32V207.64M130.97 195.24V212.00M134.10 194.56V201.88M136.45 187.44V193.18M138.02 184.42V194.95M139.59 188.92V200.98M140.37 193.28V204.97M142.72 206.67V220.21M143.50 211.66V224.13M145.07 216.58V233.58M146.64 215.62V227.53M148.21 218.46V231.93M149.77 213.00V228.85M150.56 214.21V229.76M152.91 214.71V228.87M153.69 215.37V227.42M155.26 217.87V229.99M158.39 217.94V228.03M159.18 223.07V232.56M161.53 222.07V236.49M162.31 225.33V238.17M163.88 225.22V243.00M164.66 226.98V236.04M165.44 227.83V241.84M167.80 230.46V237.54M168.58 229.35V238.58M170.93 230.26V235.38M171.71 226.69V236.03M172.50 225.09V235.56M176.42 213.57V224.09M177.20 213.83V224.86M178.77 204.01V222.27M179.55 205.42V220.54M181.90 197.00V213.10M182.68 206.93V215.96M184.25 215.76V236.39M185.03 222.09V253.00M185.82 224.84V240.01M186.60 228.27V249.48M187.39 231.88V250.99M191.30 237.12V250.02M193.65 238.98V249.57M194.44 241.45V257.18M196.01 242.44V259.29M198.36 243.13V255.48M199.92 244.13V259.79M200.71 245.77V254.86M201.49 247.66V261.00M203.84 242.00V253.13M205.41 244.72V254.59M206.98 248.09V256.71M209.33 253.05V265.00M210.89 255.65V262.92M212.46 259.32V269.12M214.03 270.50V277.37M215.60 275.10V283.21M217.16 277.50V287.30M219.51 281.85V288.23M221.08 281.64V288.07M223.43 282.05V289.49M225.00 280.19V286.78M225.78 281.35V289.78M228.13 274.90V285.05M229.70 272.54V278.82M231.27 272.83V277.44M234.40 255.19V266.77M236.75 220.00V241.25M238.32 230.53V241.07M239.10 232.74V241.28M242.24 218.47V233.00M245.37 217.80V228.13M246.16 222.71V228.79M247.72 216.84V226.48M249.29 218.25V225.69M250.07 220.19V228.00M250.86 215.98V225.46M252.42 205.00V219.20M253.99 209.42V215.44M254.78 209.32V216.18M256.34 207.00V223.09M257.13 216.66V225.22M257.91 216.29V230.45M259.48 223.98V237.00M261.83 211.40V226.00M264.96 190.70V206.40M265.75 193.19V207.38M267.31 198.15V207.25M268.10 200.19V213.20M269.66 209.59V219.82M270.45 213.44V222.41M271.23 218.50V225.19M272.01 219.51V230.00M272.80 224.30V233.07M274.37 227.73V239.30M275.15 229.50V244.13M276.72 231.19V250.14M278.28 232.49V258.82M279.85 235.20V250.49M281.42 238.00V250.42M285.34 219.05V228.44M286.90 219.26V235.43M290.04 220.50V230.62M290.82 223.41V240.00M291.60 224.13V238.37M293.17 225.83V234.30M294.74 222.14V235.21M295.52 223.51V232.43M296.31 222.33V233.52M297.87 222.90V231.26M299.44 220.17V227.97M301.01 220.95V228.21M301.79 223.16V229.50M304.14 216.97V225.20M306.49 212.49V216.13M309.63 209.24V223.45M311.19 214.06V231.51M311.98 217.55V234.49M313.55 225.54V240.97M314.33 233.06V243.63M315.11 233.18V245.00M318.25 232.00V234.48M319.03 233.59V241.70M320.60 238.14V246.00M322.16 238.08V244.77M322.95 237.15V245.83M323.73 242.82V248.44M326.08 243.66V255.77M326.87 245.81V256.65M328.43 249.20V259.00M330.78 250.50V256.88M331.57 250.69V255.68M332.35 252.09V257.18M333.92 251.17V257.21M334.70 251.09V257.19M336.27 251.27V256.58M337.05 252.44V258.00M340.19 249.00V254.40M343.32 249.50V257.49M344.89 252.36V257.37M345.67 252.75V261.06M347.24 254.41V262.72M348.02 256.17V266.03M350.37 260.26V295.00M351.94 268.32V285.05M354.29 276.79V285.48M355.86 274.11V288.58M358.99 273.82V284.67M360.56 266.94V278.97M362.91 260.19V273.26M366.83 258.23V272.00M367.61 256.37V266.81M370.75 248.27V259.38M371.53 250.30V264.00M372.32 252.11V263.11M373.88 254.62V262.47M375.45 256.55V264.00M379.37 248.24V257.69M382.50 246.28V256.10M384.07 247.23V255.06M385.64 247.79V253.60M386.42 249.64V259.39M387.20 251.19V260.37M388.77 252.42V256.89M389.55 253.87V257.99M390.34 253.77V262.56M392.69 255.86V261.31M393.47 256.87V262.62M394.26 258.67V265.55M395.04 260.56V267.72M396.61 262.15V266.14M397.39 260.53V268.20M399.74 261.69V266.88M400.52 260.00V267.09M401.31 262.59V271.80M402.88 262.94V281.30M404.44 264.68V288.30M405.23 274.64V288.78M406.01 273.73V289.51M407.58 280.02V292.00M408.36 280.25V287.71M409.14 280.47V287.51M409.93 281.75V287.19M411.50 279.84V284.91M413.85 271.00V281.52M414.63 274.04V284.06M416.20 279.60V294.04M417.76 287.27V293.97M418.55 290.02V294.91M419.33 290.82V297.40M421.68 292.18V297.26M423.25 293.30V301.25M424.82 295.07V306.00M425.60 295.81V305.17M427.17 295.55V300.17M427.95 294.00V301.73M429.52 295.02V300.74M431.09 296.48V302.83M431.87 298.73V301.58M434.22 296.97V302.79M435.79 297.48V302.25M438.92 294.63V301.58M440.49 290.00V297.16M441.27 292.71V298.37M442.06 295.84V300.25M442.84 296.82V300.53M443.62 297.98V303.59M444.41 301.28V305.93M445.19 301.04V311.17M446.76 305.38V315.82M447.54 307.96V318.14M449.89 310.30V316.35M451.46 309.86V317.63M453.03 312.55V321.72M456.94 300.43V308.02M460.86 285.62V295.74M463.21 279.67V285.70M465.56 271.05V281.91M467.91 262.30V276.23M469.48 253.41V283.00M471.83 251.01V258.64M472.62 250.00V260.35M473.40 252.41V261.24M474.18 254.74V264.14M475.75 254.02V266.44M478.10 252.24V265.46M480.45 254.28V263.20M482.80 248.19V262.84M485.15 244.88V261.11M485.94 242.05V258.92M490.64 212.11V230.11M492.21 199.97V226.91M494.56 191.10V221.21M497.69 192.25V210.99M499.26 192.00V206.05M500.04 196.86V213.78M501.61 203.00V220.00M506.31 162.98V176.58M507.88 156.48V175.97M509.45 166.20V181.00M511.80 169.20V182.63M513.36 177.08V198.77M514.15 181.72V211.18M515.71 186.95V212.18M516.50 188.46V204.06M517.28 190.76V210.64M519.63 173.00V195.57M521.98 184.24V199.00M522.77 190.31V197.39M524.33 192.89V208.30M525.12 193.78V208.94M525.90 198.15V210.90M526.68 199.80V212.45M527.47 205.88V214.96M528.25 207.10V221.47M529.82 210.90V227.00M532.17 206.35V218.69M534.52 203.53V212.63M535.30 206.28V216.90M538.44 207.75V216.23M540.79 204.97V213.15M546.27 187.48V201.50M548.63 184.31V194.45M549.41 182.00V196.30M551.76 183.84V197.04M556.46 167.93V181.35M557.24 166.25V179.10M563.51 135.52V152.53M564.30 131.45V150.86M569.78 119.33V144.81M571.35 127.31V159.46M572.92 146.24V175.00M573.70 148.58V165.02M574.48 150.26V170.74M575.27 157.00V169.39M578.40 145.00V157.96M579.97 148.54V158.44M581.54 154.73V159.12M582.32 154.74V162.40M583.10 153.27V165.84M583.89 153.41V171.20M586.24 158.56V176.93M588.59 162.10V177.12M590.16 161.00V189.19M590.94 168.25V214.52M591.72 176.73V242.00M592.51 184.64V237.87M594.07 201.17V229.87M594.86 207.89V226.93M596.42 207.00V222.44M597.99 203.22V223.81M599.56 199.08V213.93M601.91 198.53V214.41M604.26 207.14V220.30M605.04 212.23V227.33M605.83 210.08V232.00M607.40 206.41V219.43M610.53 197.89V203.82M611.31 196.00V208.61M612.88 198.98V208.10M613.66 200.05V212.92M614.45 203.81V216.32M615.23 206.82V216.56M616.01 210.58V221.00M617.58 207.52V216.53M619.93 202.00V209.55M622.28 191.00V203.56M624.63 192.64V200.89M625.42 192.77V201.17M626.99 189.00V199.68M627.77 191.95V200.49M628.55 195.26V206.79M629.34 201.22V212.00M633.25 201.29V218.28M634.04 203.14V224.58M634.82 200.00V231.00M636.39 207.94V223.80M639.52 211.15V228.47M640.31 213.41V228.67M642.66 218.38V241.52M645.01 227.69V249.28M646.58 236.66V249.69M648.14 239.47V248.69M650.49 235.78V242.46M654.41 221.09V238.69M655.19 228.99V249.33M655.98 232.50V259.25M658.33 231.11V253.07M661.46 223.31V236.48M663.81 221.66V227.92M664.60 223.08V231.75M666.17 220.72V228.98M668.52 220.35V228.69M669.30 220.93V232.57M670.87 225.82V236.69M671.65 228.11V237.82M672.43 230.60V242.56M673.22 233.61V241.95M674.00 235.57V247.62M676.35 236.32V247.89M677.14 237.95V250.58M677.92 244.49V259.78M678.70 251.92V267.48M680.27 260.52V288.75M681.84 276.86V321.00M682.62 271.04V305.29M686.54 274.53V281.87M687.32 272.46V284.16M688.11 274.13V286.77M688.89 279.41V289.58M690.46 280.24V294.00M692.02 281.10V291.59M694.37 273.23V281.97M695.16 271.14V282.68M697.51 264.33V279.57M698.29 267.97V285.10M700.64 276.84V288.22M701.43 281.39V292.71M702.99 287.06V297.44M703.78 290.38V304.30M704.56 291.83V305.84M705.35 292.72V307.75M706.13 294.79V312.00M707.70 292.19V305.88M710.05 289.28V298.83M711.61 286.22V295.40M713.18 284.00V295.65M713.96 285.92V298.08M714.75 287.71V297.19M715.53 289.02V302.07M717.10 293.08V301.42M720.23 278.72V291.18M723.37 269.67V275.81M724.15 266.00V279.77M724.94 272.00V280.22M725.72 273.91V284.58M727.29 278.35V293.20M728.85 291.01V303.00M730.42 293.05V299.36M731.20 294.46V298.63M731.99 293.78V299.41M732.77 294.17V298.84M734.34 294.10V299.10M737.47 286.41V293.94M739.04 282.66V295.14M741.39 279.00V291.36M742.96 285.40V300.35M743.74 286.73V303.49M745.31 289.92V303.49M746.09 290.92V306.25M746.88 292.28V304.11M748.44 296.84V303.20M749.23 299.38V305.46M750.79 298.69V306.46M752.36 300.69V311.78M755.50 299.13V304.73M757.85 267.99V288.60M760.98 248.18V269.05M762.55 238.62V275.00M764.12 232.43V259.95M769.60 152.39V198.34M771.17 151.71V193.31M772.73 155.36V189.72M773.52 160.62V183.50M777.44 119.00V159.52M779.00 131.01V165.03M779.79 133.53V175.56M780.57 148.11V187.17M782.14 153.75V195.00M784.49 160.13V175.21M786.06 162.13V186.85M786.84 172.24V186.45M787.62 177.69V191.19M788.41 179.49V208.55M789.97 191.33V214.93M793.89 192.61V203.00M795.46 196.37V208.96M797.03 199.63V215.75M797.81 200.09V215.22M800.94 184.00V203.43M802.51 190.39V196.41M803.30 192.10V201.79M804.08 196.76V207.58M804.86 202.71V212.76M805.65 205.16V221.87M807.21 208.70V220.94M808.00 210.98V234.00M810.35 193.00V214.01M812.70 202.02V223.72M813.48 204.81V232.00M814.27 208.32V225.25M815.05 213.00V220.58M815.83 216.49V225.93M816.62 218.02V227.37M818.18 219.36V232.84M818.97 220.85V229.92M820.53 223.20V236.11M821.32 226.27V239.82M822.89 230.38V239.12M825.24 246.90V260.58M826.02 254.25V273.68M826.80 265.16V284.00M828.37 266.34V282.98M829.15 268.01V282.68M832.29 253.00V264.31M833.07 256.98V270.49M833.86 259.21V274.31M834.64 268.68V277.12M836.99 259.15V274.11M840.12 259.64V279.17M840.91 267.78V288.00M845.61 256.00V279.36M847.18 270.35V292.98M847.96 279.60V302.00M851.09 284.31V295.92" stroke="#f23645" stroke-width="0.5" fill="none"/><path d="M0.11 23.95V34.85M1.67 24.85V35.40M4.02 12.38V33.72M7.16 12.55V29.77M7.94 4.89V26.47M10.29 0.00V24.30M11.86 3.61V22.07M12.64 0.95V23.09M13.43 4.82V19.48M14.99 0.00V17.85M18.91 17.29V38.28M20.48 33.93V41.97M21.26 23.44V41.35M22.83 26.87V42.58M23.61 29.07V41.74M27.53 33.53V53.06M30.67 43.18V60.38M31.45 45.64V57.60M32.23 41.67V60.89M34.58 49.94V65.77M36.15 57.22V81.42M40.85 108.72V134.32M43.20 114.52V140.00M44.77 124.66V139.61M45.55 119.18V138.10M50.26 145.11V154.99M51.04 144.06V152.69M51.82 142.04V153.63M54.17 145.81V162.00M54.96 143.58V159.87M56.52 135.12V150.70M60.44 145.33V160.44M63.58 158.81V168.39M64.36 158.71V166.41M65.14 158.14V166.49M70.63 195.28V217.46M71.41 203.29V211.99M72.20 191.11V210.23M72.98 194.61V204.86M73.76 186.75V203.17M74.55 183.33V196.36M76.11 179.95V194.95M78.47 187.88V196.13M82.38 208.56V218.00M83.95 207.16V214.81M84.73 203.59V211.79M85.52 199.42V211.33M86.30 197.00V209.12M87.08 199.57V211.30M89.44 205.54V220.43M91.00 212.78V233.00M93.35 205.78V219.00M94.14 198.69V210.72M94.92 193.17V203.49M95.70 183.00V201.86M96.49 184.49V202.00M98.84 191.98V203.36M100.41 194.40V206.55M101.97 190.70V205.90M102.76 181.39V198.75M104.32 171.38V191.16M105.11 166.38V188.22M106.67 167.59V184.43M108.24 160.90V179.68M109.03 159.42V177.81M110.59 164.31V176.15M112.16 153.92V172.37M113.73 151.00V168.65M115.29 151.58V164.60M117.65 160.66V176.44M121.56 182.83V199.49M123.91 192.79V206.78M125.48 192.52V209.52M127.05 194.82V207.89M127.83 194.19V210.01M129.40 197.44V210.50M131.75 196.07V209.83M132.53 193.02V205.92M133.32 188.75V204.13M134.88 188.52V200.78M135.67 187.04V194.18M137.24 184.50V193.78M138.80 184.00V195.21M141.15 201.95V206.86M141.94 202.21V207.33M144.29 215.81V234.00M145.85 219.09V233.26M147.42 215.93V228.65M148.99 214.70V231.35M151.34 218.91V229.78M152.12 214.37V229.62M154.47 215.79V230.83M156.04 218.10V230.51M156.83 218.89V229.10M157.61 217.50V225.66M159.96 225.39V233.46M160.74 221.06V233.65M163.09 224.25V239.66M166.23 228.15V241.47M167.01 229.24V240.98M169.36 231.95V240.18M170.15 229.83V241.00M173.28 220.49V233.58M174.06 221.30V230.38M174.85 219.53V228.90M175.63 214.96V227.93M177.98 205.43V224.77M180.33 208.07V219.46M181.12 198.48V214.71M183.47 209.35V218.74M188.17 232.72V249.25M188.95 235.44V248.47M189.74 236.20V248.74M190.52 236.40V247.03M192.09 241.01V250.25M192.87 237.95V252.16M195.22 244.04V255.85M196.79 246.81V259.44M197.57 242.65V253.12M199.14 243.64V255.06M202.27 249.10V257.68M203.06 243.09V254.22M204.62 243.91V252.21M206.19 247.61V254.69M207.76 251.21V258.92M208.54 251.59V257.54M210.11 254.13V260.02M211.68 255.75V262.47M213.24 266.80V272.54M214.81 274.66V279.62M216.38 277.42V283.48M217.95 277.85V287.77M218.73 280.53V287.55M220.30 280.76V288.74M221.86 284.17V287.71M222.65 282.33V290.27M224.21 281.62V293.00M226.57 278.49V289.20M227.35 276.00V287.04M228.92 273.49V282.36M230.48 273.96V279.07M232.05 268.99V275.69M232.83 261.96V273.32M233.62 256.00V270.52M235.19 243.83V261.98M235.97 229.60V253.71M237.54 226.18V239.55M239.89 226.89V240.20M240.67 225.56V237.68M241.45 222.31V232.05M243.02 216.26V232.57M243.80 212.00V230.14M244.59 217.04V229.35M246.94 215.66V228.06M248.51 217.31V225.62M251.64 213.73V223.21M253.21 208.17V219.56M255.56 208.13V216.49M258.69 223.83V231.79M260.26 220.56V233.65M261.04 214.68V229.82M262.61 202.39V220.57M263.39 193.14V212.31M264.18 187.00V208.40M266.53 196.76V210.56M268.88 204.17V215.13M273.58 225.42V236.17M275.93 232.27V247.43M277.50 231.60V259.00M279.07 233.74V258.76M280.63 241.18V259.00M282.20 231.54V246.20M282.98 232.76V242.01M283.77 222.07V237.70M284.55 219.67V236.48M286.12 215.00V228.28M287.69 218.19V236.20M288.47 219.28V233.78M289.25 219.38V236.44M292.39 225.38V235.92M293.96 222.05V234.85M297.09 222.83V232.44M298.66 217.00V230.20M300.22 219.75V229.29M302.57 221.97V230.00M303.36 219.06V226.51M304.93 214.54V224.10M305.71 212.57V220.27M307.28 210.54V217.84M308.06 208.40V216.49M308.84 207.00V214.53M310.41 211.68V227.83M312.76 221.79V231.78M315.90 237.00V242.94M316.68 232.62V239.70M317.46 232.04V239.74M319.81 238.43V243.63M321.38 240.08V245.92M324.52 242.94V250.79M325.30 241.90V250.87M327.65 248.03V257.62M329.22 250.14V255.95M330.00 250.32V257.89M333.14 251.21V257.08M335.49 251.51V256.85M337.84 254.05V257.84M338.62 250.40V256.99M339.40 250.53V257.42M340.97 247.00V256.20M341.75 248.26V251.74M342.54 248.65V251.27M344.11 251.07V256.30M346.46 253.40V263.37M348.81 257.82V278.76M349.59 258.70V286.11M351.16 267.17V282.17M352.73 270.77V284.71M353.51 275.52V287.31M355.08 273.37V287.07M356.64 280.89V287.95M357.43 279.83V292.00M358.21 274.88V285.54M359.78 270.93V282.61M361.34 269.31V276.81M362.13 261.11V275.03M363.70 257.00V271.67M364.48 259.75V268.98M365.26 259.00V267.16M366.05 258.12V264.25M368.40 250.98V260.69M369.18 244.00V255.27M369.96 246.63V254.01M373.10 254.15V261.83M374.67 254.99V263.61M376.23 250.53V260.89M377.02 249.65V258.28M377.80 241.00V255.67M378.58 247.48V251.53M380.15 249.68V260.00M380.93 251.23V255.34M381.72 247.77V253.90M383.29 243.00V252.43M384.85 246.01V257.08M387.99 251.86V260.86M391.12 254.66V261.09M391.91 254.95V261.31M395.82 262.62V269.00M398.17 263.93V268.10M398.96 260.86V267.49M402.09 264.77V275.85M403.66 269.85V284.95M406.79 276.74V289.66M410.71 280.94V286.32M412.28 278.64V284.26M413.06 273.15V283.16M415.41 276.23V284.16M416.98 284.91V293.31M420.11 290.97V297.43M420.90 291.24V297.07M422.47 293.15V297.39M424.03 294.97V299.75M426.38 295.25V303.35M428.73 295.44V301.98M430.30 295.76V299.97M432.65 297.02V304.00M433.44 297.55V303.56M435.00 297.09V303.94M436.57 298.57V303.86M437.35 295.88V304.00M438.14 295.35V300.35M439.70 293.15V298.23M445.97 303.59V313.29M448.32 311.25V320.00M449.11 310.66V317.06M450.68 308.00V315.70M452.24 312.10V319.26M453.81 315.18V323.00M454.59 311.48V318.80M455.38 305.39V315.76M456.16 303.92V312.72M457.73 293.02V305.15M458.51 290.16V301.49M459.29 289.56V293.79M460.08 286.03V295.71M461.65 285.17V295.25M462.43 281.05V291.59M464.00 273.44V284.79M464.78 272.27V283.45M466.35 272.31V280.97M467.13 265.74V280.56M468.70 256.23V277.26M470.27 257.70V273.12M471.05 251.29V265.86M474.97 253.47V265.23M476.53 251.31V269.00M477.32 251.81V261.90M478.88 253.40V263.53M479.67 254.12V260.42M481.24 252.35V262.05M482.02 248.79V257.31M483.59 248.37V258.16M484.37 245.76V256.40M486.72 239.04V256.84M487.50 240.58V254.49M488.29 235.09V251.43M489.07 225.53V249.59M489.86 218.58V243.00M491.42 212.65V226.76M492.99 190.00V227.40M493.77 190.77V220.78M495.34 203.67V217.91M496.12 198.39V214.39M496.91 192.18V212.73M498.47 192.06V210.04M500.83 199.93V214.76M502.39 197.01V212.22M503.18 183.93V207.82M503.96 183.98V200.84M504.74 175.23V190.23M505.53 167.13V179.92M507.09 153.00V175.56M508.66 164.41V175.11M510.23 171.33V181.91M511.01 171.54V179.40M512.58 172.66V191.04M514.93 185.71V220.00M518.06 197.96V206.18M518.85 187.24V201.25M520.42 175.89V194.29M521.20 179.88V196.80M523.55 190.91V202.47M529.04 208.47V227.00M530.60 211.51V224.99M531.39 206.67V221.96M532.95 201.00V215.46M533.74 203.16V211.71M536.09 209.78V217.00M536.87 210.42V215.54M537.65 207.86V215.55M539.22 209.19V217.00M540.01 208.43V214.82M541.57 206.82V211.64M542.36 203.31V209.51M543.14 198.51V206.87M543.92 194.79V202.68M544.71 191.46V199.03M545.49 188.25V200.40M547.06 186.90V199.60M547.84 186.61V197.55M550.19 184.90V197.34M550.98 187.76V194.03M552.54 185.23V201.00M553.33 182.09V193.85M554.11 178.36V191.86M554.89 174.13V188.14M555.68 170.83V178.08M558.03 169.25V180.72M558.81 158.04V176.24M559.60 153.24V174.25M560.38 147.58V164.81M561.16 143.48V162.70M561.95 142.60V160.52M562.73 136.65V155.29M565.08 140.00V148.30M565.86 132.41V145.29M566.65 134.24V142.25M567.43 124.60V139.18M568.22 117.00V136.11M569.00 118.08V138.35M570.57 125.24V149.38M572.13 143.62V165.90M576.05 154.04V167.03M576.83 153.54V163.99M577.62 151.96V158.72M579.19 150.26V158.17M580.75 150.28V158.72M584.67 151.00V168.89M585.45 156.18V169.45M587.02 169.35V179.78M587.81 163.46V177.49M589.37 161.64V181.09M593.29 193.63V234.96M595.64 207.16V226.41M597.21 207.69V223.66M598.78 199.65V219.82M600.34 194.00V211.38M601.13 196.51V209.68M602.69 205.13V215.51M603.48 205.56V214.10M606.61 206.16V223.56M608.18 203.91V216.14M608.96 199.54V212.10M609.75 197.10V209.51M612.10 200.12V210.39M616.80 208.01V216.68M618.37 205.43V214.84M619.15 202.77V211.95M620.72 200.04V208.46M621.50 195.36V205.57M623.07 192.17V203.22M623.85 192.36V201.32M626.20 192.16V200.22M630.12 202.71V209.77M630.90 201.69V209.55M631.69 202.91V206.82M632.47 201.74V207.35M635.60 208.38V226.42M637.17 208.93V223.65M637.96 212.83V219.55M638.74 210.76V224.87M641.09 213.39V232.07M641.87 215.74V232.05M643.44 229.28V238.66M644.22 224.55V239.75M645.79 232.08V248.86M647.36 241.83V250.00M648.93 239.80V247.15M649.71 237.13V244.44M651.28 234.42V240.63M652.06 232.95V237.24M652.84 222.58V233.84M653.63 217.00V230.06M656.76 231.06V267.00M657.55 236.30V252.04M659.11 228.80V247.05M659.90 225.63V239.37M660.68 223.52V233.57M662.25 222.51V235.73M663.03 222.41V228.70M665.38 219.99V230.44M666.95 219.00V228.46M667.73 220.29V228.97M670.08 223.69V234.39M674.78 238.75V248.09M675.57 235.53V248.20M679.49 257.53V280.52M681.05 270.12V304.98M683.40 276.36V299.01M684.19 268.00V288.28M684.97 270.28V284.31M685.76 274.84V284.70M689.67 280.71V290.45M691.24 284.05V292.81M692.81 276.91V290.32M693.59 275.07V288.23M695.94 269.67V281.45M696.73 261.00V279.10M699.08 278.79V286.99M699.86 273.52V286.76M702.21 285.98V295.11M706.91 294.06V306.87M708.48 292.82V303.40M709.26 290.21V299.05M710.83 287.26V298.41M712.40 285.75V295.12M716.32 292.87V305.00M717.88 284.62V300.43M718.67 282.89V297.50M719.45 280.54V292.14M721.02 280.07V287.54M721.80 273.92V283.49M722.58 270.20V281.70M726.50 275.28V288.06M728.07 285.94V294.60M729.64 293.72V302.00M733.55 293.01V298.88M735.12 288.20V298.50M735.91 287.62V297.86M736.69 287.61V296.74M738.26 282.74V293.58M739.82 286.14V293.07M740.61 280.75V292.31M742.17 283.06V294.03M744.53 289.07V310.00M747.66 294.52V304.99M750.01 298.01V306.38M751.58 299.85V308.76M753.14 302.30V315.80M753.93 301.78V318.00M754.71 297.73V310.22M756.28 287.56V301.62M757.06 280.79V294.18M758.63 257.30V279.13M759.41 252.38V268.94M760.20 247.19V265.91M761.76 238.10V269.48M763.33 235.66V250.40M764.90 232.29V247.73M765.68 227.89V245.87M766.47 228.50V243.97M767.25 229.61V238.51M768.03 183.26V237.14M768.82 138.00V236.00M770.38 150.34V197.72M771.95 153.60V191.50M774.30 167.12V182.89M775.09 146.38V181.81M775.87 144.38V177.46M776.65 129.83V164.53M778.22 126.01V162.95M781.35 144.57V191.97M782.92 150.91V187.89M783.71 152.27V181.04M785.27 156.28V177.04M789.19 190.32V232.70M790.76 191.23V216.00M791.54 191.61V212.38M792.32 192.60V204.50M793.11 191.00V201.51M794.68 194.47V206.15M796.24 200.17V218.00M798.59 205.21V215.39M799.38 204.45V212.91M800.16 188.94V207.84M801.73 188.40V199.35M806.43 206.72V220.65M808.78 212.19V226.89M809.56 204.91V221.08M811.13 203.08V214.58M811.91 200.75V215.61M817.40 219.11V228.13M819.75 223.59V236.37M822.10 229.15V240.21M823.67 229.19V239.50M824.45 232.62V312.00M827.59 271.82V283.01M829.94 273.18V280.38M830.72 261.54V277.37M831.50 257.81V272.83M835.42 261.99V281.00M836.21 260.08V271.40M837.77 257.59V267.17M838.56 255.00V265.44M839.34 257.70V265.93M841.69 264.59V297.40M842.48 264.67V275.75M843.26 260.86V270.05M844.04 258.60V273.24M844.83 257.08V273.84M846.39 264.09V282.59M848.74 284.16V298.48M849.53 281.11V293.01M850.31 276.00V289.28M851.88 291.58V304.63" stroke="#089981" stroke-width="0.5" fill="none"/><path d="M0.54 29.87h0.7V33.26h-0.7zM2.11 27.33h0.7V28.66h-0.7zM2.89 28.15h0.7V32.00h-0.7zM4.46 12.73h0.7V19.71h-0.7zM5.24 19.88h0.7V23.37h-0.7zM6.02 23.26h0.7V29.15h-0.7zM8.37 9.16h0.7V15.39h-0.7zM9.16 15.36h0.7V23.90h-0.7zM10.73 8.46h0.7V17.74h-0.7zM13.86 6.27h0.7V12.04h-0.7zM15.43 3.89h0.7V20.89h-0.7zM16.21 21.05h0.7V25.27h-0.7zM16.99 25.56h0.7V31.25h-0.7zM17.78 31.50h0.7V35.67h-0.7zM19.35 19.24h0.7V41.14h-0.7zM21.70 30.92h0.7V38.44h-0.7zM24.05 30.18h0.7V39.20h-0.7zM24.83 39.14h0.7V39.74h-0.7zM25.61 39.40h0.7V40.80h-0.7zM26.40 40.67h0.7V44.74h-0.7zM27.96 40.88h0.7V47.13h-0.7zM28.75 47.00h0.7V48.94h-0.7zM29.53 49.67h0.7V53.14h-0.7zM32.67 43.44h0.7V61.91h-0.7zM33.45 62.24h0.7V63.23h-0.7zM35.02 52.26h0.7V71.74h-0.7zM36.58 71.91h0.7V75.03h-0.7zM37.37 75.09h0.7V82.20h-0.7zM38.15 85.97h0.7V103.49h-0.7zM38.94 103.87h0.7V109.23h-0.7zM39.72 109.48h0.7V128.84h-0.7zM41.29 113.30h0.7V137.88h-0.7zM42.07 138.00h0.7V139.64h-0.7zM43.64 132.78h0.7V139.71h-0.7zM45.99 128.51h0.7V136.97h-0.7zM46.77 136.95h0.7V145.01h-0.7zM47.55 144.81h0.7V153.29h-0.7zM48.34 152.70h0.7V153.34h-0.7zM49.12 153.28h0.7V154.07h-0.7zM52.26 142.58h0.7V145.61h-0.7zM53.04 145.14h0.7V154.71h-0.7zM55.39 145.87h0.7V149.18h-0.7zM56.96 135.57h0.7V136.55h-0.7zM57.74 137.00h0.7V149.30h-0.7zM58.53 149.57h0.7V152.88h-0.7zM59.31 153.46h0.7V158.64h-0.7zM60.88 147.68h0.7V156.68h-0.7zM61.66 156.76h0.7V160.86h-0.7zM62.44 160.55h0.7V162.52h-0.7zM65.58 159.83h0.7V172.08h-0.7zM66.36 172.48h0.7V189.00h-0.7zM67.14 189.09h0.7V205.81h-0.7zM67.93 201.54h0.7V206.45h-0.7zM68.71 202.05h0.7V214.89h-0.7zM69.50 214.63h0.7V215.99h-0.7zM74.98 192.09h0.7V194.51h-0.7zM76.55 182.84h0.7V188.02h-0.7zM77.33 187.79h0.7V194.04h-0.7zM78.90 194.85h0.7V198.78h-0.7zM79.68 198.74h0.7V204.53h-0.7zM80.47 204.71h0.7V207.11h-0.7zM81.25 207.48h0.7V211.65h-0.7zM82.82 210.01h0.7V213.72h-0.7zM87.52 201.36h0.7V207.14h-0.7zM88.30 207.08h0.7V212.81h-0.7zM89.87 208.24h0.7V215.26h-0.7zM91.44 214.20h0.7V220.10h-0.7zM92.22 219.78h0.7V222.18h-0.7zM96.92 186.77h0.7V195.02h-0.7zM97.71 195.01h0.7V195.61h-0.7zM99.27 194.13h0.7V201.82h-0.7zM100.84 200.07h0.7V204.09h-0.7zM103.19 181.72h0.7V193.86h-0.7zM105.54 170.22h0.7V185.37h-0.7zM107.11 175.30h0.7V177.32h-0.7zM109.46 165.23h0.7V171.80h-0.7zM111.03 172.07h0.7V172.67h-0.7zM112.59 168.66h0.7V170.30h-0.7zM114.16 152.63h0.7V156.99h-0.7zM115.73 151.77h0.7V159.13h-0.7zM116.51 158.99h0.7V175.27h-0.7zM118.08 163.49h0.7V170.71h-0.7zM118.86 170.55h0.7V175.68h-0.7zM119.65 175.61h0.7V183.65h-0.7zM120.43 183.08h0.7V192.84h-0.7zM122.00 186.49h0.7V199.13h-0.7zM122.78 198.71h0.7V200.69h-0.7zM124.35 200.13h0.7V205.77h-0.7zM125.91 199.27h0.7V204.43h-0.7zM128.27 194.78h0.7V203.15h-0.7zM129.83 199.21h0.7V203.66h-0.7zM130.62 203.81h0.7V211.75h-0.7zM133.75 200.04h0.7V200.99h-0.7zM136.10 189.41h0.7V191.20h-0.7zM137.67 184.77h0.7V193.27h-0.7zM139.24 188.92h0.7V193.31h-0.7zM140.02 193.28h0.7V204.89h-0.7zM142.37 206.67h0.7V220.05h-0.7zM143.15 219.94h0.7V221.99h-0.7zM144.72 216.58h0.7V233.47h-0.7zM146.29 221.86h0.7V223.92h-0.7zM147.86 223.13h0.7V231.17h-0.7zM149.42 225.76h0.7V227.97h-0.7zM150.21 228.07h0.7V228.78h-0.7zM152.56 214.71h0.7V219.38h-0.7zM153.34 219.74h0.7V226.11h-0.7zM154.91 220.25h0.7V228.35h-0.7zM158.04 217.94h0.7V226.77h-0.7zM158.83 227.14h0.7V232.39h-0.7zM161.18 222.07h0.7V231.87h-0.7zM161.96 231.86h0.7V237.34h-0.7zM163.53 225.22h0.7V228.38h-0.7zM164.31 228.73h0.7V229.80h-0.7zM165.09 229.06h0.7V241.76h-0.7zM167.45 231.22h0.7V235.31h-0.7zM168.23 235.70h0.7V236.30h-0.7zM170.58 231.81h0.7V232.41h-0.7zM171.36 232.35h0.7V234.87h-0.7zM172.15 235.13h0.7V235.73h-0.7zM176.07 218.14h0.7V220.34h-0.7zM176.85 221.00h0.7V224.16h-0.7zM178.42 205.00h0.7V207.10h-0.7zM179.20 206.92h0.7V216.41h-0.7zM181.55 197.89h0.7V209.46h-0.7zM182.33 209.73h0.7V211.90h-0.7zM183.90 215.76h0.7V218.49h-0.7zM184.68 222.09h0.7V230.69h-0.7zM185.47 230.21h0.7V232.20h-0.7zM186.25 232.26h0.7V246.79h-0.7zM187.04 246.95h0.7V248.35h-0.7zM190.95 239.80h0.7V247.46h-0.7zM193.30 238.98h0.7V246.68h-0.7zM194.09 246.60h0.7V252.27h-0.7zM195.66 249.09h0.7V250.11h-0.7zM198.01 243.13h0.7V250.64h-0.7zM199.57 244.13h0.7V247.66h-0.7zM200.36 247.72h0.7V249.16h-0.7zM201.14 249.35h0.7V255.69h-0.7zM203.49 243.47h0.7V249.65h-0.7zM205.06 245.81h0.7V254.50h-0.7zM206.63 249.55h0.7V256.25h-0.7zM208.98 253.05h0.7V258.07h-0.7zM210.54 256.64h0.7V260.69h-0.7zM212.11 259.55h0.7V268.36h-0.7zM213.68 270.50h0.7V276.02h-0.7zM215.25 275.17h0.7V279.27h-0.7zM216.81 277.85h0.7V287.19h-0.7zM219.16 284.22h0.7V287.93h-0.7zM220.73 284.25h0.7V286.53h-0.7zM223.08 282.92h0.7V287.25h-0.7zM224.65 281.70h0.7V283.44h-0.7zM225.43 283.48h0.7V289.34h-0.7zM227.78 275.75h0.7V276.81h-0.7zM229.35 273.67h0.7V276.80h-0.7zM230.92 276.23h0.7V277.15h-0.7zM234.05 257.18h0.7V260.57h-0.7zM236.40 229.51h0.7V234.20h-0.7zM237.97 230.53h0.7V237.79h-0.7zM238.75 237.69h0.7V239.88h-0.7zM241.89 228.31h0.7V232.50h-0.7zM245.02 221.62h0.7V227.08h-0.7zM245.81 226.97h0.7V228.66h-0.7zM247.37 217.92h0.7V224.65h-0.7zM248.94 220.69h0.7V221.83h-0.7zM249.72 221.38h0.7V225.17h-0.7zM250.51 224.67h0.7V225.36h-0.7zM252.07 215.96h0.7V216.70h-0.7zM253.64 209.42h0.7V210.02h-0.7zM254.43 209.41h0.7V212.48h-0.7zM255.99 208.16h0.7V218.84h-0.7zM256.78 219.46h0.7V222.73h-0.7zM257.56 223.26h0.7V230.34h-0.7zM259.13 226.53h0.7V235.95h-0.7zM261.48 216.59h0.7V222.71h-0.7zM264.61 190.70h0.7V193.27h-0.7zM265.40 193.19h0.7V203.59h-0.7zM266.96 201.02h0.7V201.62h-0.7zM267.75 200.37h0.7V212.02h-0.7zM269.31 212.25h0.7V219.71h-0.7zM270.10 219.28h0.7V221.37h-0.7zM270.88 220.76h0.7V221.36h-0.7zM271.66 220.81h0.7V228.98h-0.7zM272.45 228.91h0.7V232.44h-0.7zM274.02 231.56h0.7V232.78h-0.7zM274.80 233.12h0.7V239.08h-0.7zM276.37 235.58h0.7V243.73h-0.7zM277.93 233.27h0.7V258.66h-0.7zM279.50 235.32h0.7V243.79h-0.7zM281.07 242.65h0.7V244.51h-0.7zM284.99 220.26h0.7V224.16h-0.7zM286.55 221.45h0.7V235.20h-0.7zM289.69 220.50h0.7V226.06h-0.7zM290.47 225.96h0.7V228.51h-0.7zM291.25 228.16h0.7V230.30h-0.7zM292.82 230.17h0.7V230.77h-0.7zM294.39 222.59h0.7V227.07h-0.7zM295.17 226.66h0.7V228.86h-0.7zM295.96 228.92h0.7V233.40h-0.7zM297.52 226.05h0.7V231.16h-0.7zM299.09 223.98h0.7V226.28h-0.7zM300.66 221.67h0.7V224.24h-0.7zM301.44 223.90h0.7V227.61h-0.7zM303.79 220.18h0.7V221.19h-0.7zM306.14 213.51h0.7V214.11h-0.7zM309.28 209.24h0.7V220.47h-0.7zM310.84 214.06h0.7V224.43h-0.7zM311.63 223.84h0.7V224.88h-0.7zM313.20 225.54h0.7V234.11h-0.7zM313.98 234.67h0.7V237.57h-0.7zM314.76 237.61h0.7V244.26h-0.7zM317.90 232.38h0.7V232.98h-0.7zM318.68 233.59h0.7V241.67h-0.7zM320.25 240.51h0.7V245.87h-0.7zM321.81 241.91h0.7V243.19h-0.7zM322.60 242.80h0.7V244.98h-0.7zM323.38 244.75h0.7V247.90h-0.7zM325.73 243.66h0.7V248.24h-0.7zM326.52 247.73h0.7V255.18h-0.7zM328.08 249.22h0.7V253.35h-0.7zM330.43 250.50h0.7V251.10h-0.7zM331.22 250.74h0.7V254.24h-0.7zM332.00 253.89h0.7V257.14h-0.7zM333.57 253.23h0.7V257.17h-0.7zM334.35 256.61h0.7V257.21h-0.7zM335.92 252.42h0.7V254.10h-0.7zM336.70 253.80h0.7V257.58h-0.7zM339.84 251.59h0.7V252.19h-0.7zM342.97 249.50h0.7V254.33h-0.7zM344.54 253.14h0.7V254.33h-0.7zM345.32 253.85h0.7V261.01h-0.7zM346.89 254.41h0.7V259.61h-0.7zM347.67 260.15h0.7V264.25h-0.7zM350.02 260.26h0.7V276.29h-0.7zM351.59 270.35h0.7V281.61h-0.7zM353.94 279.15h0.7V282.44h-0.7zM355.51 274.11h0.7V286.95h-0.7zM358.64 275.52h0.7V282.27h-0.7zM360.21 273.03h0.7V278.90h-0.7zM362.56 269.75h0.7V273.21h-0.7zM366.48 259.27h0.7V262.17h-0.7zM367.26 262.29h0.7V266.45h-0.7zM370.40 248.27h0.7V249.58h-0.7zM371.18 250.30h0.7V252.28h-0.7zM371.97 252.44h0.7V256.97h-0.7zM373.53 256.37h0.7V259.78h-0.7zM375.10 259.24h0.7V262.14h-0.7zM379.02 249.06h0.7V257.59h-0.7zM382.15 248.08h0.7V250.37h-0.7zM383.72 250.92h0.7V254.05h-0.7zM385.29 247.79h0.7V248.59h-0.7zM386.07 249.64h0.7V250.97h-0.7zM386.85 251.20h0.7V258.96h-0.7zM388.42 252.42h0.7V254.50h-0.7zM389.20 254.17h0.7V255.21h-0.7zM389.99 255.72h0.7V259.65h-0.7zM392.34 255.86h0.7V257.90h-0.7zM393.12 257.59h0.7V259.26h-0.7zM393.91 259.12h0.7V261.66h-0.7zM394.69 262.01h0.7V267.25h-0.7zM396.26 264.02h0.7V264.62h-0.7zM397.04 264.38h0.7V267.00h-0.7zM399.39 262.90h0.7V264.65h-0.7zM400.17 264.35h0.7V265.98h-0.7zM400.96 266.13h0.7V270.57h-0.7zM402.53 267.63h0.7V281.16h-0.7zM404.09 279.14h0.7V281.24h-0.7zM404.88 281.39h0.7V283.32h-0.7zM405.66 282.89h0.7V286.80h-0.7zM407.23 280.02h0.7V280.62h-0.7zM408.01 280.25h0.7V280.85h-0.7zM408.79 280.47h0.7V284.15h-0.7zM409.58 284.27h0.7V284.87h-0.7zM411.15 280.71h0.7V283.03h-0.7zM413.50 273.08h0.7V279.47h-0.7zM414.28 279.78h0.7V280.81h-0.7zM415.85 279.60h0.7V290.44h-0.7zM417.41 287.91h0.7V288.66h-0.7zM418.20 290.02h0.7V291.08h-0.7zM418.98 291.31h0.7V297.34h-0.7zM421.33 292.52h0.7V295.94h-0.7zM422.90 295.37h0.7V296.32h-0.7zM424.47 295.24h0.7V297.15h-0.7zM425.25 296.87h0.7V299.13h-0.7zM426.82 295.99h0.7V297.48h-0.7zM427.60 297.70h0.7V301.50h-0.7zM429.17 295.25h0.7V298.39h-0.7zM430.74 297.61h0.7V300.16h-0.7zM431.52 299.75h0.7V300.88h-0.7zM433.87 297.66h0.7V301.37h-0.7zM435.44 298.78h0.7V301.57h-0.7zM438.57 296.12h0.7V297.20h-0.7zM440.14 294.09h0.7V295.09h-0.7zM440.92 294.95h0.7V296.88h-0.7zM441.71 296.79h0.7V297.39h-0.7zM442.49 297.04h0.7V299.46h-0.7zM443.27 299.47h0.7V302.52h-0.7zM444.06 302.78h0.7V304.26h-0.7zM444.84 304.34h0.7V310.50h-0.7zM446.41 306.08h0.7V308.02h-0.7zM447.19 307.96h0.7V318.10h-0.7zM449.54 312.48h0.7V314.33h-0.7zM451.11 311.20h0.7V317.60h-0.7zM452.68 314.81h0.7V321.63h-0.7zM456.59 304.62h0.7V305.22h-0.7zM460.51 286.37h0.7V293.50h-0.7zM462.86 282.43h0.7V284.37h-0.7zM465.21 272.59h0.7V280.37h-0.7zM467.56 265.90h0.7V267.21h-0.7zM469.13 256.56h0.7V268.78h-0.7zM471.48 251.71h0.7V254.83h-0.7zM472.27 254.77h0.7V256.63h-0.7zM473.05 256.64h0.7V258.77h-0.7zM473.83 259.03h0.7V261.13h-0.7zM475.40 256.46h0.7V263.94h-0.7zM477.75 254.71h0.7V260.12h-0.7zM480.10 257.76h0.7V258.45h-0.7zM482.45 254.36h0.7V255.77h-0.7zM484.80 249.85h0.7V253.70h-0.7zM485.59 253.96h0.7V257.82h-0.7zM490.29 219.32h0.7V223.42h-0.7zM491.86 217.10h0.7V224.81h-0.7zM494.21 191.10h0.7V217.52h-0.7zM497.34 200.67h0.7V207.99h-0.7zM498.91 192.89h0.7V198.30h-0.7zM499.69 198.15h0.7V211.37h-0.7zM501.26 205.37h0.7V210.55h-0.7zM505.96 170.66h0.7V176.07h-0.7zM507.53 165.02h0.7V171.70h-0.7zM509.10 168.81h0.7V180.01h-0.7zM511.45 174.04h0.7V177.08h-0.7zM513.01 177.08h0.7V180.68h-0.7zM513.80 181.72h0.7V209.31h-0.7zM515.36 186.95h0.7V187.55h-0.7zM516.15 188.46h0.7V196.40h-0.7zM516.93 196.52h0.7V209.71h-0.7zM519.28 193.26h0.7V194.16h-0.7zM521.63 184.24h0.7V192.96h-0.7zM522.42 192.83h0.7V194.53h-0.7zM523.98 193.85h0.7V194.69h-0.7zM524.77 194.61h0.7V204.23h-0.7zM525.55 203.84h0.7V204.44h-0.7zM526.33 204.71h0.7V209.58h-0.7zM527.12 208.73h0.7V211.04h-0.7zM527.90 210.93h0.7V218.09h-0.7zM529.47 212.48h0.7V224.61h-0.7zM531.82 208.70h0.7V213.70h-0.7zM534.17 203.53h0.7V207.79h-0.7zM534.95 207.80h0.7V216.85h-0.7zM538.09 211.33h0.7V214.54h-0.7zM540.44 211.75h0.7V212.94h-0.7zM545.92 188.61h0.7V198.52h-0.7zM548.28 187.43h0.7V191.50h-0.7zM549.06 191.46h0.7V194.61h-0.7zM551.41 190.83h0.7V193.40h-0.7zM556.11 170.49h0.7V173.56h-0.7zM556.89 173.78h0.7V175.90h-0.7zM563.16 137.29h0.7V148.75h-0.7zM563.95 148.19h0.7V149.66h-0.7zM569.43 119.33h0.7V131.72h-0.7zM571.00 130.22h0.7V159.05h-0.7zM572.57 149.00h0.7V158.78h-0.7zM573.35 158.93h0.7V161.00h-0.7zM574.13 160.64h0.7V162.44h-0.7zM574.92 162.52h0.7V169.19h-0.7zM578.05 154.83h0.7V157.84h-0.7zM579.62 156.30h0.7V158.38h-0.7zM581.19 157.76h0.7V159.09h-0.7zM581.97 159.43h0.7V160.72h-0.7zM582.75 160.69h0.7V161.76h-0.7zM583.54 161.39h0.7V162.53h-0.7zM585.89 158.56h0.7V176.09h-0.7zM588.24 164.36h0.7V174.51h-0.7zM589.81 163.27h0.7V167.76h-0.7zM590.59 168.25h0.7V213.95h-0.7zM591.37 191.37h0.7V213.99h-0.7zM592.16 191.30h0.7V233.96h-0.7zM593.72 202.58h0.7V205.95h-0.7zM594.51 207.89h0.7V225.39h-0.7zM596.07 219.60h0.7V220.20h-0.7zM597.64 214.16h0.7V223.74h-0.7zM599.21 200.00h0.7V212.13h-0.7zM601.56 198.53h0.7V214.33h-0.7zM603.91 208.02h0.7V217.81h-0.7zM604.69 217.76h0.7V226.65h-0.7zM605.48 215.91h0.7V226.71h-0.7zM607.05 212.42h0.7V217.29h-0.7zM610.18 199.32h0.7V201.09h-0.7zM610.96 201.11h0.7V207.02h-0.7zM612.53 200.75h0.7V201.35h-0.7zM613.31 200.20h0.7V208.09h-0.7zM614.10 207.53h0.7V211.69h-0.7zM614.88 211.62h0.7V212.22h-0.7zM615.66 211.89h0.7V214.84h-0.7zM617.23 208.06h0.7V213.77h-0.7zM619.58 203.60h0.7V206.99h-0.7zM621.93 200.88h0.7V201.79h-0.7zM624.28 192.64h0.7V198.16h-0.7zM625.07 198.23h0.7V198.83h-0.7zM626.64 194.06h0.7V195.55h-0.7zM627.42 195.43h0.7V196.03h-0.7zM628.20 195.26h0.7V206.42h-0.7zM628.99 206.72h0.7V208.75h-0.7zM632.90 202.19h0.7V205.61h-0.7zM633.69 205.23h0.7V213.83h-0.7zM634.47 213.77h0.7V223.13h-0.7zM636.04 213.00h0.7V220.59h-0.7zM639.17 211.15h0.7V225.25h-0.7zM639.96 225.18h0.7V226.86h-0.7zM642.31 218.38h0.7V234.82h-0.7zM644.66 230.57h0.7V249.00h-0.7zM646.23 240.39h0.7V249.51h-0.7zM647.79 248.28h0.7V248.88h-0.7zM650.14 238.09h0.7V241.54h-0.7zM654.06 222.44h0.7V235.11h-0.7zM654.84 235.15h0.7V236.64h-0.7zM655.63 236.01h0.7V247.33h-0.7zM657.98 243.68h0.7V252.90h-0.7zM661.11 225.83h0.7V235.49h-0.7zM663.46 223.29h0.7V224.84h-0.7zM664.25 224.75h0.7V231.65h-0.7zM665.82 227.38h0.7V228.87h-0.7zM668.17 220.43h0.7V221.03h-0.7zM668.95 220.93h0.7V227.54h-0.7zM670.52 227.09h0.7V227.82h-0.7zM671.30 228.11h0.7V231.42h-0.7zM672.08 231.56h0.7V234.05h-0.7zM672.87 234.05h0.7V238.59h-0.7zM673.65 238.38h0.7V247.46h-0.7zM676.00 236.33h0.7V236.93h-0.7zM676.79 237.95h0.7V244.52h-0.7zM677.57 244.87h0.7V258.93h-0.7zM678.35 259.05h0.7V261.94h-0.7zM679.92 260.52h0.7V282.85h-0.7zM681.49 278.79h0.7V281.37h-0.7zM682.27 278.88h0.7V300.42h-0.7zM686.19 277.50h0.7V278.17h-0.7zM686.97 278.47h0.7V281.15h-0.7zM687.76 280.66h0.7V284.38h-0.7zM688.54 284.75h0.7V289.41h-0.7zM690.11 288.39h0.7V292.49h-0.7zM691.67 286.02h0.7V291.45h-0.7zM694.02 276.93h0.7V280.17h-0.7zM694.81 279.78h0.7V281.57h-0.7zM697.16 266.23h0.7V271.13h-0.7zM697.94 271.10h0.7V284.89h-0.7zM700.29 277.54h0.7V281.78h-0.7zM701.08 282.53h0.7V289.13h-0.7zM702.64 288.90h0.7V292.06h-0.7zM703.43 292.29h0.7V298.45h-0.7zM704.21 297.91h0.7V298.51h-0.7zM705.00 297.88h0.7V304.18h-0.7zM705.78 303.77h0.7V305.77h-0.7zM707.35 297.90h0.7V305.83h-0.7zM709.70 290.64h0.7V295.59h-0.7zM711.26 287.39h0.7V292.78h-0.7zM712.83 286.76h0.7V287.36h-0.7zM713.61 286.86h0.7V287.87h-0.7zM714.40 288.05h0.7V292.03h-0.7zM715.18 291.45h0.7V298.79h-0.7zM716.75 296.87h0.7V298.32h-0.7zM719.88 280.67h0.7V288.42h-0.7zM723.02 270.76h0.7V271.48h-0.7zM723.80 271.78h0.7V273.25h-0.7zM724.59 273.80h0.7V277.79h-0.7zM725.37 277.61h0.7V281.00h-0.7zM726.94 278.35h0.7V293.05h-0.7zM728.50 291.01h0.7V296.47h-0.7zM730.07 294.79h0.7V296.60h-0.7zM730.85 296.72h0.7V297.32h-0.7zM731.64 296.57h0.7V297.17h-0.7zM732.42 296.82h0.7V297.42h-0.7zM733.99 297.24h0.7V299.04h-0.7zM737.12 288.33h0.7V290.86h-0.7zM738.69 283.79h0.7V292.58h-0.7zM741.04 282.66h0.7V290.23h-0.7zM742.61 285.84h0.7V293.62h-0.7zM743.39 293.44h0.7V300.75h-0.7zM744.96 289.92h0.7V291.64h-0.7zM745.74 291.61h0.7V298.53h-0.7zM746.53 298.45h0.7V299.47h-0.7zM748.09 298.95h0.7V301.26h-0.7zM748.88 301.50h0.7V302.10h-0.7zM750.44 300.11h0.7V305.09h-0.7zM752.01 300.74h0.7V305.02h-0.7zM755.15 301.63h0.7V303.75h-0.7zM757.50 283.95h0.7V288.48h-0.7zM760.63 251.63h0.7V263.69h-0.7zM762.20 240.05h0.7V243.88h-0.7zM763.77 238.13h0.7V242.53h-0.7zM769.25 166.74h0.7V174.21h-0.7zM770.82 153.30h0.7V180.20h-0.7zM772.38 155.36h0.7V166.85h-0.7zM773.17 166.41h0.7V179.18h-0.7zM777.09 130.47h0.7V150.29h-0.7zM778.65 131.01h0.7V131.61h-0.7zM779.44 133.53h0.7V171.31h-0.7zM780.22 170.88h0.7V179.65h-0.7zM781.79 164.54h0.7V186.86h-0.7zM784.14 167.38h0.7V173.02h-0.7zM785.71 162.13h0.7V176.09h-0.7zM786.49 175.71h0.7V180.83h-0.7zM787.27 180.88h0.7V181.48h-0.7zM788.06 181.70h0.7V194.81h-0.7zM789.62 205.66h0.7V214.72h-0.7zM793.54 192.61h0.7V199.38h-0.7zM795.11 196.43h0.7V206.38h-0.7zM796.68 201.03h0.7V207.07h-0.7zM797.46 207.07h0.7V214.42h-0.7zM800.59 194.71h0.7V197.78h-0.7zM802.16 192.58h0.7V194.23h-0.7zM802.95 194.05h0.7V198.74h-0.7zM803.73 198.82h0.7V203.41h-0.7zM804.51 203.76h0.7V209.97h-0.7zM805.30 209.95h0.7V210.97h-0.7zM806.86 208.70h0.7V214.85h-0.7zM807.65 215.06h0.7V225.60h-0.7zM810.00 209.64h0.7V213.67h-0.7zM812.35 202.34h0.7V202.94h-0.7zM813.13 204.81h0.7V208.18h-0.7zM813.92 208.33h0.7V213.76h-0.7zM814.70 213.86h0.7V217.45h-0.7zM815.48 217.30h0.7V219.96h-0.7zM816.27 219.35h0.7V223.32h-0.7zM817.83 219.36h0.7V225.95h-0.7zM818.62 225.80h0.7V226.62h-0.7zM820.18 225.73h0.7V229.00h-0.7zM820.97 229.29h0.7V236.26h-0.7zM822.54 234.13h0.7V234.73h-0.7zM824.89 254.60h0.7V255.20h-0.7zM825.67 254.30h0.7V268.29h-0.7zM826.45 268.52h0.7V282.13h-0.7zM828.02 274.81h0.7V278.73h-0.7zM828.80 278.40h0.7V279.88h-0.7zM831.94 258.12h0.7V259.56h-0.7zM832.72 259.59h0.7V262.34h-0.7zM833.51 262.78h0.7V271.92h-0.7zM834.29 271.66h0.7V274.75h-0.7zM836.64 260.37h0.7V262.39h-0.7zM839.77 259.64h0.7V273.85h-0.7zM840.56 274.22h0.7V280.03h-0.7zM845.26 257.69h0.7V275.32h-0.7zM846.83 270.35h0.7V281.76h-0.7zM847.61 281.98h0.7V289.23h-0.7zM850.74 284.81h0.7V294.96h-0.7z" fill="#f23645"/><path d="M-0.24 30.15h0.7V31.79h-0.7zM1.32 27.83h0.7V33.57h-0.7zM3.67 12.63h0.7V32.09h-0.7zM6.81 19.04h0.7V29.02h-0.7zM7.59 9.14h0.7V18.79h-0.7zM9.94 8.03h0.7V23.46h-0.7zM11.51 15.79h0.7V17.93h-0.7zM12.29 7.90h0.7V15.50h-0.7zM13.08 6.84h0.7V7.46h-0.7zM14.64 0.28h0.7V11.71h-0.7zM18.56 17.61h0.7V35.27h-0.7zM20.13 38.24h0.7V40.94h-0.7zM20.91 31.34h0.7V37.97h-0.7zM22.48 34.89h0.7V38.86h-0.7zM23.26 30.07h0.7V34.65h-0.7zM27.18 41.21h0.7V44.64h-0.7zM30.32 52.80h0.7V53.40h-0.7zM31.10 50.74h0.7V53.10h-0.7zM31.88 43.54h0.7V51.00h-0.7zM34.23 51.09h0.7V63.28h-0.7zM35.80 71.63h0.7V72.23h-0.7zM40.50 113.89h0.7V128.57h-0.7zM42.85 133.00h0.7V139.98h-0.7zM44.42 137.88h0.7V139.61h-0.7zM45.20 128.51h0.7V137.33h-0.7zM49.91 148.53h0.7V154.60h-0.7zM50.69 147.99h0.7V148.59h-0.7zM51.47 142.58h0.7V147.50h-0.7zM53.82 149.60h0.7V154.44h-0.7zM54.61 146.06h0.7V149.24h-0.7zM56.17 135.34h0.7V148.51h-0.7zM60.09 145.83h0.7V158.37h-0.7zM63.23 160.71h0.7V162.26h-0.7zM64.01 159.94h0.7V160.90h-0.7zM64.79 158.25h0.7V160.45h-0.7zM70.28 208.73h0.7V215.98h-0.7zM71.06 208.63h0.7V209.23h-0.7zM71.85 204.03h0.7V208.54h-0.7zM72.63 203.09h0.7V203.85h-0.7zM73.41 194.99h0.7V203.09h-0.7zM74.20 191.96h0.7V195.12h-0.7zM75.76 183.16h0.7V194.23h-0.7zM78.12 194.35h0.7V194.95h-0.7zM82.03 210.36h0.7V211.55h-0.7zM83.60 209.97h0.7V213.95h-0.7zM84.38 207.30h0.7V210.03h-0.7zM85.17 205.75h0.7V206.99h-0.7zM85.95 202.27h0.7V205.62h-0.7zM86.73 199.72h0.7V202.44h-0.7zM89.09 205.72h0.7V212.24h-0.7zM90.65 213.75h0.7V215.27h-0.7zM93.00 207.88h0.7V219.00h-0.7zM93.79 198.84h0.7V207.82h-0.7zM94.57 197.52h0.7V199.06h-0.7zM95.35 197.05h0.7V197.65h-0.7zM96.14 184.69h0.7V196.60h-0.7zM98.49 194.24h0.7V195.47h-0.7zM100.06 199.37h0.7V201.67h-0.7zM101.62 195.41h0.7V204.42h-0.7zM102.41 181.49h0.7V195.59h-0.7zM103.97 189.01h0.7V191.16h-0.7zM104.76 169.87h0.7V188.22h-0.7zM106.32 174.80h0.7V184.43h-0.7zM107.89 172.16h0.7V177.74h-0.7zM108.68 165.43h0.7V171.95h-0.7zM110.24 172.07h0.7V172.67h-0.7zM111.81 169.12h0.7V172.11h-0.7zM113.38 152.63h0.7V168.65h-0.7zM114.94 151.73h0.7V157.13h-0.7zM117.30 163.70h0.7V175.36h-0.7zM121.21 186.27h0.7V192.52h-0.7zM123.56 199.57h0.7V200.66h-0.7zM125.13 199.27h0.7V206.24h-0.7zM126.70 203.52h0.7V204.70h-0.7zM127.48 194.34h0.7V203.66h-0.7zM129.05 199.14h0.7V202.78h-0.7zM131.40 205.51h0.7V209.83h-0.7zM132.18 200.99h0.7V205.35h-0.7zM132.97 199.78h0.7V200.88h-0.7zM134.53 190.89h0.7V200.78h-0.7zM135.32 189.75h0.7V190.44h-0.7zM136.89 184.63h0.7V191.03h-0.7zM138.45 185.05h0.7V193.53h-0.7zM140.80 204.37h0.7V204.97h-0.7zM141.59 202.27h0.7V204.56h-0.7zM143.94 215.97h0.7V222.27h-0.7zM145.50 221.71h0.7V233.26h-0.7zM147.07 222.80h0.7V223.57h-0.7zM148.64 226.22h0.7V231.27h-0.7zM150.99 224.11h0.7V228.77h-0.7zM151.77 214.46h0.7V224.51h-0.7zM154.12 220.42h0.7V226.15h-0.7zM155.69 227.00h0.7V228.52h-0.7zM156.48 223.39h0.7V227.23h-0.7zM157.26 217.64h0.7V223.27h-0.7zM159.61 229.80h0.7V233.05h-0.7zM160.39 221.21h0.7V230.09h-0.7zM162.74 224.40h0.7V237.47h-0.7zM165.88 241.30h0.7V241.90h-0.7zM166.66 230.97h0.7V240.75h-0.7zM169.01 234.32h0.7V236.08h-0.7zM169.80 231.75h0.7V234.45h-0.7zM172.93 228.05h0.7V233.58h-0.7zM173.71 227.28h0.7V228.18h-0.7zM174.50 223.08h0.7V227.20h-0.7zM175.28 218.29h0.7V222.88h-0.7zM177.63 205.49h0.7V224.13h-0.7zM179.98 212.05h0.7V215.99h-0.7zM180.77 198.57h0.7V211.80h-0.7zM183.12 209.53h0.7V212.67h-0.7zM187.82 245.30h0.7V248.72h-0.7zM188.60 243.74h0.7V245.38h-0.7zM189.39 240.21h0.7V243.56h-0.7zM190.17 239.39h0.7V239.99h-0.7zM191.74 247.40h0.7V248.00h-0.7zM192.52 238.03h0.7V247.26h-0.7zM194.87 248.94h0.7V252.17h-0.7zM196.44 249.87h0.7V250.47h-0.7zM197.22 242.85h0.7V249.12h-0.7zM198.79 243.84h0.7V250.64h-0.7zM201.92 252.23h0.7V255.42h-0.7zM202.71 243.21h0.7V252.51h-0.7zM204.27 245.75h0.7V250.40h-0.7zM205.84 249.56h0.7V254.18h-0.7zM207.41 254.61h0.7V255.70h-0.7zM208.19 251.62h0.7V254.61h-0.7zM209.76 256.36h0.7V258.22h-0.7zM211.33 259.80h0.7V260.76h-0.7zM212.89 267.80h0.7V268.40h-0.7zM214.46 275.37h0.7V276.45h-0.7zM216.03 278.03h0.7V279.27h-0.7zM217.60 285.24h0.7V287.57h-0.7zM218.38 284.14h0.7V285.37h-0.7zM219.95 283.67h0.7V288.53h-0.7zM221.51 286.26h0.7V286.86h-0.7zM222.30 283.12h0.7V286.27h-0.7zM223.86 281.74h0.7V286.95h-0.7zM226.22 283.75h0.7V289.20h-0.7zM227.00 276.06h0.7V283.95h-0.7zM228.57 274.12h0.7V276.25h-0.7zM230.13 276.19h0.7V276.89h-0.7zM231.70 271.26h0.7V275.69h-0.7zM232.48 269.31h0.7V271.11h-0.7zM233.27 256.91h0.7V269.68h-0.7zM234.84 243.91h0.7V261.19h-0.7zM235.62 229.88h0.7V243.97h-0.7zM237.19 227.00h0.7V234.31h-0.7zM239.54 240.02h0.7V240.62h-0.7zM240.32 230.14h0.7V237.68h-0.7zM241.10 228.22h0.7V229.88h-0.7zM242.67 223.27h0.7V232.57h-0.7zM243.45 221.88h0.7V223.62h-0.7zM244.24 221.67h0.7V222.27h-0.7zM246.59 218.11h0.7V228.06h-0.7zM248.16 220.63h0.7V224.75h-0.7zM251.29 216.22h0.7V223.21h-0.7zM252.86 208.65h0.7V216.76h-0.7zM255.21 208.25h0.7V212.49h-0.7zM258.34 226.59h0.7V230.48h-0.7zM259.91 227.95h0.7V233.65h-0.7zM260.69 216.32h0.7V228.20h-0.7zM262.26 208.15h0.7V220.57h-0.7zM263.04 204.48h0.7V208.22h-0.7zM263.83 188.81h0.7V204.28h-0.7zM266.18 200.84h0.7V203.36h-0.7zM268.53 211.94h0.7V212.54h-0.7zM273.23 231.70h0.7V232.75h-0.7zM275.58 235.43h0.7V238.92h-0.7zM277.15 233.04h0.7V243.85h-0.7zM278.72 235.18h0.7V258.51h-0.7zM280.28 242.70h0.7V243.62h-0.7zM281.85 242.86h0.7V244.13h-0.7zM282.63 237.03h0.7V242.01h-0.7zM283.42 223.95h0.7V237.47h-0.7zM284.20 220.39h0.7V223.92h-0.7zM285.77 221.01h0.7V224.21h-0.7zM287.34 222.25h0.7V234.79h-0.7zM288.12 220.09h0.7V222.38h-0.7zM288.90 219.52h0.7V220.12h-0.7zM292.04 230.46h0.7V231.06h-0.7zM293.61 222.18h0.7V230.30h-0.7zM296.74 226.56h0.7V232.44h-0.7zM298.31 223.84h0.7V230.20h-0.7zM299.87 221.80h0.7V225.46h-0.7zM302.22 222.27h0.7V227.89h-0.7zM303.01 220.47h0.7V222.46h-0.7zM304.58 214.69h0.7V220.87h-0.7zM305.36 213.50h0.7V214.60h-0.7zM306.93 213.19h0.7V213.79h-0.7zM307.71 208.50h0.7V213.42h-0.7zM308.49 207.24h0.7V208.40h-0.7zM310.06 211.89h0.7V220.62h-0.7zM312.41 222.59h0.7V224.76h-0.7zM315.55 239.02h0.7V242.94h-0.7zM316.33 235.07h0.7V238.88h-0.7zM317.11 232.10h0.7V234.74h-0.7zM319.46 240.61h0.7V241.49h-0.7zM321.03 242.19h0.7V245.45h-0.7zM324.17 245.83h0.7V247.74h-0.7zM324.95 242.02h0.7V246.39h-0.7zM327.30 248.96h0.7V255.41h-0.7zM328.87 250.21h0.7V253.58h-0.7zM329.65 250.40h0.7V251.00h-0.7zM332.79 252.76h0.7V257.08h-0.7zM335.14 252.22h0.7V256.35h-0.7zM337.49 256.27h0.7V257.84h-0.7zM338.27 253.78h0.7V256.31h-0.7zM339.05 251.36h0.7V253.72h-0.7zM340.62 249.32h0.7V252.17h-0.7zM341.40 248.73h0.7V249.64h-0.7zM342.19 248.68h0.7V249.28h-0.7zM343.76 252.59h0.7V254.42h-0.7zM346.11 253.52h0.7V260.84h-0.7zM348.46 259.74h0.7V264.36h-0.7zM349.24 259.00h0.7V259.90h-0.7zM350.81 270.53h0.7V276.50h-0.7zM352.38 279.89h0.7V281.59h-0.7zM353.16 278.73h0.7V280.56h-0.7zM354.73 273.85h0.7V283.00h-0.7zM356.29 285.16h0.7V286.83h-0.7zM357.08 282.13h0.7V285.07h-0.7zM357.86 275.38h0.7V282.10h-0.7zM359.43 272.44h0.7V282.00h-0.7zM360.99 274.49h0.7V276.81h-0.7zM361.78 269.55h0.7V273.88h-0.7zM363.35 268.15h0.7V271.67h-0.7zM364.13 261.18h0.7V268.25h-0.7zM364.91 260.01h0.7V261.36h-0.7zM365.70 259.05h0.7V260.19h-0.7zM368.05 256.56h0.7V260.69h-0.7zM368.83 252.45h0.7V255.27h-0.7zM369.61 248.09h0.7V252.42h-0.7zM372.75 256.01h0.7V256.85h-0.7zM374.32 259.45h0.7V260.12h-0.7zM375.88 260.76h0.7V261.36h-0.7zM376.67 256.33h0.7V258.28h-0.7zM377.45 249.33h0.7V255.67h-0.7zM378.23 249.13h0.7V249.73h-0.7zM379.80 252.95h0.7V257.26h-0.7zM380.58 252.11h0.7V253.27h-0.7zM381.37 248.22h0.7V251.75h-0.7zM382.94 250.59h0.7V251.19h-0.7zM384.50 246.09h0.7V254.25h-0.7zM387.64 251.91h0.7V259.64h-0.7zM390.77 258.45h0.7V259.87h-0.7zM391.56 255.05h0.7V258.30h-0.7zM395.47 264.11h0.7V267.08h-0.7zM397.82 266.57h0.7V267.17h-0.7zM398.61 262.98h0.7V266.20h-0.7zM401.74 267.56h0.7V270.38h-0.7zM403.31 278.98h0.7V281.44h-0.7zM406.44 278.49h0.7V286.77h-0.7zM410.36 281.01h0.7V284.53h-0.7zM411.93 282.88h0.7V283.48h-0.7zM412.71 273.19h0.7V282.99h-0.7zM415.06 276.28h0.7V280.22h-0.7zM416.63 288.03h0.7V289.40h-0.7zM419.76 296.27h0.7V296.87h-0.7zM420.55 293.06h0.7V295.88h-0.7zM422.12 295.01h0.7V296.50h-0.7zM423.68 295.60h0.7V296.56h-0.7zM426.03 296.15h0.7V299.07h-0.7zM428.38 296.26h0.7V301.12h-0.7zM429.95 297.46h0.7V298.51h-0.7zM432.30 297.85h0.7V300.92h-0.7zM433.09 297.90h0.7V298.50h-0.7zM434.65 299.16h0.7V301.96h-0.7zM436.22 301.48h0.7V302.10h-0.7zM437.00 297.60h0.7V301.59h-0.7zM437.79 296.16h0.7V296.87h-0.7zM439.35 294.21h0.7V296.67h-0.7zM445.62 306.63h0.7V310.56h-0.7zM447.97 316.14h0.7V318.03h-0.7zM448.76 312.37h0.7V315.99h-0.7zM450.33 311.44h0.7V314.26h-0.7zM451.89 314.51h0.7V317.85h-0.7zM453.46 320.10h0.7V321.60h-0.7zM454.24 315.14h0.7V318.80h-0.7zM455.03 314.62h0.7V315.57h-0.7zM455.81 304.77h0.7V312.72h-0.7zM457.38 296.15h0.7V304.79h-0.7zM458.16 291.21h0.7V296.02h-0.7zM458.94 290.73h0.7V291.33h-0.7zM459.73 286.11h0.7V290.84h-0.7zM461.30 291.49h0.7V293.70h-0.7zM462.08 282.17h0.7V291.07h-0.7zM463.65 273.60h0.7V284.62h-0.7zM464.43 272.59h0.7V274.01h-0.7zM466.00 274.81h0.7V280.36h-0.7zM466.78 265.94h0.7V275.10h-0.7zM468.35 256.42h0.7V267.65h-0.7zM469.92 262.32h0.7V268.62h-0.7zM470.70 251.44h0.7V262.74h-0.7zM474.62 256.94h0.7V261.37h-0.7zM476.18 257.49h0.7V263.66h-0.7zM476.97 254.49h0.7V257.67h-0.7zM478.53 258.98h0.7V259.98h-0.7zM479.32 257.26h0.7V258.86h-0.7zM480.89 255.32h0.7V258.83h-0.7zM481.67 253.98h0.7V255.14h-0.7zM483.24 250.56h0.7V255.64h-0.7zM484.02 249.68h0.7V251.07h-0.7zM486.37 256.58h0.7V257.18h-0.7zM487.15 249.60h0.7V254.49h-0.7zM487.94 248.65h0.7V249.61h-0.7zM488.72 241.10h0.7V248.85h-0.7zM489.51 219.43h0.7V240.74h-0.7zM491.07 217.28h0.7V222.68h-0.7zM492.64 214.79h0.7V225.13h-0.7zM493.42 191.04h0.7V214.70h-0.7zM494.99 214.46h0.7V217.67h-0.7zM495.77 202.58h0.7V214.21h-0.7zM496.56 200.13h0.7V202.43h-0.7zM498.12 192.24h0.7V208.03h-0.7zM500.48 204.99h0.7V211.56h-0.7zM502.04 208.10h0.7V210.23h-0.7zM502.83 201.32h0.7V207.82h-0.7zM503.61 192.15h0.7V200.84h-0.7zM504.39 189.00h0.7V190.23h-0.7zM505.18 170.77h0.7V179.92h-0.7zM506.74 165.02h0.7V175.51h-0.7zM508.31 168.43h0.7V172.15h-0.7zM509.88 174.65h0.7V180.03h-0.7zM510.66 174.12h0.7V175.05h-0.7zM512.23 176.04h0.7V177.35h-0.7zM514.58 186.71h0.7V209.25h-0.7zM517.71 204.34h0.7V206.18h-0.7zM518.50 193.38h0.7V201.25h-0.7zM520.07 189.29h0.7V193.96h-0.7zM520.85 180.02h0.7V189.20h-0.7zM523.20 193.61h0.7V194.70h-0.7zM528.69 212.41h0.7V218.06h-0.7zM530.25 218.13h0.7V224.97h-0.7zM531.04 208.28h0.7V217.97h-0.7zM532.60 206.64h0.7V213.67h-0.7zM533.39 203.55h0.7V206.35h-0.7zM535.74 215.14h0.7V217.00h-0.7zM536.52 212.77h0.7V214.91h-0.7zM537.30 211.08h0.7V212.69h-0.7zM538.87 211.88h0.7V214.71h-0.7zM539.66 211.43h0.7V212.03h-0.7zM541.22 209.31h0.7V211.64h-0.7zM542.01 206.40h0.7V209.25h-0.7zM542.79 200.94h0.7V205.92h-0.7zM543.57 195.46h0.7V200.86h-0.7zM544.36 191.54h0.7V195.69h-0.7zM545.14 188.43h0.7V191.68h-0.7zM546.71 192.26h0.7V198.33h-0.7zM547.49 187.61h0.7V192.55h-0.7zM549.84 191.38h0.7V194.71h-0.7zM550.63 190.82h0.7V191.42h-0.7zM552.19 189.82h0.7V193.02h-0.7zM552.98 187.67h0.7V189.60h-0.7zM553.76 183.21h0.7V187.55h-0.7zM554.54 174.27h0.7V183.33h-0.7zM555.33 170.92h0.7V173.57h-0.7zM557.68 172.41h0.7V176.06h-0.7zM558.46 169.32h0.7V172.23h-0.7zM559.25 161.42h0.7V169.43h-0.7zM560.03 160.68h0.7V161.46h-0.7zM560.81 154.25h0.7V161.04h-0.7zM561.60 148.32h0.7V154.35h-0.7zM562.38 137.78h0.7V148.70h-0.7zM564.73 147.72h0.7V148.32h-0.7zM565.51 142.76h0.7V145.29h-0.7zM566.30 139.00h0.7V142.25h-0.7zM567.08 138.98h0.7V139.58h-0.7zM567.87 135.90h0.7V136.50h-0.7zM568.65 118.17h0.7V135.27h-0.7zM570.22 130.10h0.7V131.88h-0.7zM571.78 148.34h0.7V159.03h-0.7zM575.70 160.17h0.7V167.03h-0.7zM576.48 155.32h0.7V160.04h-0.7zM577.27 154.62h0.7V155.22h-0.7zM578.84 156.51h0.7V158.13h-0.7zM580.40 157.79h0.7V158.55h-0.7zM584.32 160.96h0.7V162.87h-0.7zM585.10 157.63h0.7V160.26h-0.7zM586.67 175.00h0.7V175.60h-0.7zM587.46 164.07h0.7V174.84h-0.7zM589.02 162.51h0.7V174.42h-0.7zM592.94 202.51h0.7V233.85h-0.7zM595.29 219.97h0.7V225.42h-0.7zM596.86 213.86h0.7V220.04h-0.7zM598.43 199.87h0.7V219.82h-0.7zM599.99 207.43h0.7V211.38h-0.7zM600.78 198.81h0.7V206.62h-0.7zM602.34 212.05h0.7V214.21h-0.7zM603.13 207.90h0.7V211.86h-0.7zM606.26 212.48h0.7V216.01h-0.7zM607.83 209.81h0.7V216.14h-0.7zM608.61 201.76h0.7V209.92h-0.7zM609.40 199.63h0.7V201.93h-0.7zM611.75 201.08h0.7V207.43h-0.7zM616.45 208.06h0.7V215.33h-0.7zM618.02 205.81h0.7V213.69h-0.7zM618.80 203.48h0.7V205.47h-0.7zM620.37 202.14h0.7V207.89h-0.7zM621.15 201.19h0.7V202.05h-0.7zM622.72 198.30h0.7V202.15h-0.7zM623.50 192.98h0.7V198.33h-0.7zM625.85 194.30h0.7V198.61h-0.7zM629.77 207.84h0.7V208.83h-0.7zM630.55 205.20h0.7V208.18h-0.7zM631.34 204.00h0.7V204.99h-0.7zM632.12 202.08h0.7V204.09h-0.7zM635.25 213.23h0.7V223.68h-0.7zM636.82 216.00h0.7V220.81h-0.7zM637.61 216.08h0.7V216.68h-0.7zM638.39 210.86h0.7V215.77h-0.7zM640.74 221.72h0.7V227.74h-0.7zM641.52 215.97h0.7V221.65h-0.7zM643.09 233.07h0.7V234.51h-0.7zM643.87 230.50h0.7V232.99h-0.7zM645.44 240.55h0.7V248.60h-0.7zM647.01 248.41h0.7V249.74h-0.7zM648.58 241.63h0.7V247.15h-0.7zM649.36 238.27h0.7V241.98h-0.7zM650.93 238.49h0.7V240.63h-0.7zM651.71 237.09h0.7V237.69h-0.7zM652.49 225.29h0.7V233.84h-0.7zM653.28 222.73h0.7V225.54h-0.7zM656.41 245.92h0.7V246.80h-0.7zM657.20 243.38h0.7V245.98h-0.7zM658.76 239.19h0.7V247.05h-0.7zM659.55 231.52h0.7V238.75h-0.7zM660.33 226.17h0.7V231.53h-0.7zM661.90 225.65h0.7V235.61h-0.7zM662.68 223.27h0.7V225.93h-0.7zM665.03 227.73h0.7V230.44h-0.7zM666.60 225.17h0.7V228.46h-0.7zM667.38 220.53h0.7V225.47h-0.7zM669.73 227.36h0.7V227.96h-0.7zM674.43 243.62h0.7V247.27h-0.7zM675.22 236.44h0.7V243.74h-0.7zM679.14 260.59h0.7V261.83h-0.7zM680.70 281.04h0.7V282.76h-0.7zM683.05 292.68h0.7V299.01h-0.7zM683.84 288.03h0.7V288.63h-0.7zM684.62 281.63h0.7V284.31h-0.7zM685.41 278.03h0.7V281.62h-0.7zM689.32 288.84h0.7V289.44h-0.7zM690.89 286.17h0.7V291.95h-0.7zM692.46 279.48h0.7V290.32h-0.7zM693.24 276.69h0.7V279.40h-0.7zM695.59 279.77h0.7V281.45h-0.7zM696.38 266.79h0.7V279.10h-0.7zM698.73 284.06h0.7V284.97h-0.7zM699.51 277.58h0.7V284.18h-0.7zM701.86 288.72h0.7V289.32h-0.7zM706.56 298.06h0.7V305.33h-0.7zM708.13 295.67h0.7V303.40h-0.7zM708.91 290.63h0.7V295.65h-0.7zM710.48 287.70h0.7V295.78h-0.7zM712.05 286.66h0.7V293.24h-0.7zM715.97 296.73h0.7V298.46h-0.7zM717.53 284.81h0.7V298.33h-0.7zM718.32 283.21h0.7V284.78h-0.7zM719.10 280.69h0.7V283.53h-0.7zM720.67 283.51h0.7V287.54h-0.7zM721.45 281.06h0.7V283.14h-0.7zM722.23 270.34h0.7V281.02h-0.7zM726.15 277.51h0.7V281.11h-0.7zM727.72 287.60h0.7V293.40h-0.7zM729.29 294.25h0.7V296.08h-0.7zM733.20 297.09h0.7V297.69h-0.7zM734.77 298.36h0.7V298.96h-0.7zM735.56 291.30h0.7V297.86h-0.7zM736.34 288.40h0.7V291.49h-0.7zM737.91 283.61h0.7V291.08h-0.7zM739.47 288.77h0.7V292.69h-0.7zM740.26 282.21h0.7V289.07h-0.7zM741.82 285.78h0.7V290.33h-0.7zM744.18 289.29h0.7V300.71h-0.7zM747.31 299.38h0.7V299.98h-0.7zM749.66 300.42h0.7V302.02h-0.7zM751.23 300.97h0.7V305.08h-0.7zM752.79 302.40h0.7V304.90h-0.7zM753.58 302.21h0.7V302.81h-0.7zM754.36 301.96h0.7V302.56h-0.7zM755.93 288.30h0.7V301.62h-0.7zM756.71 283.56h0.7V288.34h-0.7zM758.28 265.10h0.7V279.13h-0.7zM759.06 257.63h0.7V265.57h-0.7zM759.85 251.12h0.7V257.82h-0.7zM761.41 240.50h0.7V263.17h-0.7zM762.98 238.13h0.7V243.65h-0.7zM764.55 239.95h0.7V242.38h-0.7zM765.33 238.82h0.7V239.82h-0.7zM766.12 236.81h0.7V238.74h-0.7zM766.90 234.62h0.7V236.89h-0.7zM767.68 200.76h0.7V234.63h-0.7zM768.47 152.00h0.7V232.00h-0.7zM770.03 153.35h0.7V173.86h-0.7zM771.60 153.98h0.7V180.19h-0.7zM773.95 175.66h0.7V179.03h-0.7zM774.74 174.47h0.7V176.09h-0.7zM775.52 160.54h0.7V174.97h-0.7zM776.30 129.96h0.7V160.54h-0.7zM777.87 128.85h0.7V150.39h-0.7zM781.00 164.37h0.7V179.09h-0.7zM782.57 174.63h0.7V187.09h-0.7zM783.36 167.40h0.7V174.77h-0.7zM784.92 156.60h0.7V173.47h-0.7zM788.84 194.74h0.7V205.76h-0.7zM790.41 213.02h0.7V214.70h-0.7zM791.19 200.06h0.7V212.38h-0.7zM791.97 198.50h0.7V200.39h-0.7zM792.76 191.42h0.7V198.69h-0.7zM794.33 196.66h0.7V199.46h-0.7zM795.89 201.34h0.7V206.96h-0.7zM798.24 213.75h0.7V214.43h-0.7zM799.03 212.65h0.7V213.25h-0.7zM799.81 194.64h0.7V207.84h-0.7zM801.38 193.04h0.7V197.78h-0.7zM806.08 207.87h0.7V211.06h-0.7zM808.43 220.68h0.7V225.59h-0.7zM809.21 209.30h0.7V220.80h-0.7zM810.78 206.10h0.7V213.47h-0.7zM811.56 202.68h0.7V206.08h-0.7zM817.05 219.81h0.7V224.04h-0.7zM819.40 225.87h0.7V226.95h-0.7zM821.75 234.57h0.7V236.67h-0.7zM823.32 231.76h0.7V235.24h-0.7zM824.10 232.62h0.7V254.58h-0.7zM827.24 274.87h0.7V282.76h-0.7zM829.59 277.26h0.7V279.67h-0.7zM830.37 264.84h0.7V277.04h-0.7zM831.15 258.29h0.7V265.03h-0.7zM835.07 262.73h0.7V274.54h-0.7zM835.86 260.17h0.7V263.24h-0.7zM837.42 262.34h0.7V262.94h-0.7zM838.21 260.47h0.7V262.08h-0.7zM838.99 257.76h0.7V260.52h-0.7zM841.34 269.65h0.7V279.86h-0.7zM842.13 269.14h0.7V269.74h-0.7zM842.91 263.48h0.7V269.20h-0.7zM843.69 258.68h0.7V263.26h-0.7zM844.48 257.33h0.7V258.61h-0.7zM846.04 264.36h0.7V275.69h-0.7zM848.39 287.94h0.7V289.29h-0.7zM849.18 285.95h0.7V288.11h-0.7zM849.96 284.69h0.7V285.82h-0.7zM851.53 295.74h0.7V302.53h-0.7z" fill="#089981"/><g font-family="Liberation Sans, sans-serif" font-size="9.6" fill="#2962ff" stroke="#2962ff" stroke-width="0.25" text-anchor="end"><text x="965.4" y="37.9">2.618</text><text x="965.4" y="48.9">1.272</text><text x="965.4" y="53.3">1.618</text><text x="965.4" y="53.9">1.878</text><text x="965.4" y="57.6">1.272</text><text x="965.4" y="74.2">2.272</text><text x="965.4" y="82.1">0.5</text><text x="965.4" y="101.1">3</text><text x="965.4" y="105.7">2</text><text x="965.4" y="110.4">1</text><text x="965.4" y="112.4">0</text><text x="965.4" y="137.8">0.382</text><text x="965.4" y="142.4">0.618</text><text x="965.4" y="147.8">0.786</text><text x="965.4" y="153.9">0.786</text><text x="965.4" y="154.4">0.786</text><text x="965.4" y="181.8">0.878</text><text x="965.4" y="182.4">0.618</text><text x="965.4" y="190.2">0.638</text><text x="965.4" y="190.7">0.888</text><text x="965.4" y="204.7">0.5</text><text x="965.4" y="213.2">0.5</text><text x="965.4" y="213.7">0.6</text><text x="965.4" y="228.5">0.382</text><text x="965.4" y="229.4">0.402</text><text x="965.4" y="234.4">0.786</text><text x="965.4" y="235.4">0.618</text><text x="965.4" y="238.4">0.882</text><text x="965.4" y="250.6">0.618</text><text x="965.4" y="262.8">0.5</text><text x="965.4" y="272.8">0.786</text><text x="965.4" y="276.6">0.382</text><text x="965.4" y="304.9">0</text><text x="965.4" y="314.8">0</text><text x="965.4" y="371.8">1.272</text></g><text x="919.3" y="131" font-size="32.3" fill="#4caf50" font-weight="normal" text-anchor="start" font-family="Liberation Sans, sans-serif" textLength="11.5" lengthAdjust="spacingAndGlyphs" stroke="#4caf50" stroke-width="0.8">1</text><text x="932.9" y="131" font-size="32.3" fill="#4caf50" font-weight="normal" text-anchor="start" font-family="Liberation Sans, sans-serif" textLength="18.7" lengthAdjust="spacingAndGlyphs" stroke="#4caf50" stroke-width="0.8">2</text><text x="953.3" y="131" font-size="32.3" fill="#4caf50" font-weight="normal" text-anchor="start" font-family="Liberation Sans, sans-serif" textLength="13.2" lengthAdjust="spacingAndGlyphs" stroke="#4caf50" stroke-width="0.8">$</text><text x="912" y="335.5" font-size="33.6" fill="#4caf50" font-weight="normal" text-anchor="start" font-family="Liberation Sans, sans-serif" textLength="15.3" lengthAdjust="spacingAndGlyphs" stroke="#4caf50" stroke-width="0.8">3</text><text x="927.4" y="335.5" font-size="45" fill="#4caf50" font-weight="normal" text-anchor="start" font-family="Liberation Sans, sans-serif" textLength="12.8" lengthAdjust="spacingAndGlyphs" stroke="#4caf50" stroke-width="0.8">.</text><text x="939.5" y="335.5" font-size="33.6" fill="#4caf50" font-weight="normal" text-anchor="start" font-family="Liberation Sans, sans-serif" textLength="16.9" lengthAdjust="spacingAndGlyphs" stroke="#4caf50" stroke-width="0.8">4</text><text x="959" y="335.5" font-size="33.6" fill="#4caf50" font-weight="normal" text-anchor="start" font-family="Liberation Sans, sans-serif" textLength="13.7" lengthAdjust="spacingAndGlyphs" stroke="#4caf50" stroke-width="0.8">$</text></g><rect x="0" y="38" width="470" height="18" fill="#fff" fill-opacity="0.55"/><rect x="0" y="94" width="300" height="15" fill="#fff" fill-opacity="0.55"/><circle cx="13.3" cy="50" r="2.5" fill="none" stroke="#e6007a" stroke-opacity="0.8" stroke-width="1.5" stroke-dasharray="1.4 0.6"/><path d="M14.3 44.3 C15.5 41 20 40 21.6 43.2 C23 46.2 21.2 48.5 20 51.5" fill="none" stroke="#0e9384" stroke-width="2.7" stroke-linecap="butt"/><text x="27" y="52" font-size="12.9" fill="#131722" font-weight="normal" text-anchor="start" font-family="Liberation Sans, sans-serif" textLength="22.8" lengthAdjust="spacingAndGlyphs" stroke="#131722" stroke-width="0.22">DOT</text><text x="54.6" y="52" font-size="12.9" fill="#131722" font-weight="normal" text-anchor="start" font-family="Liberation Sans, sans-serif" textLength="4.4" lengthAdjust="spacingAndGlyphs" stroke="#131722" stroke-width="0.22">/</text><text x="64.2" y="52" font-size="12.9" fill="#131722" font-weight="normal" text-anchor="start" font-family="Liberation Sans, sans-serif" textLength="52.2" lengthAdjust="spacingAndGlyphs" stroke="#131722" stroke-width="0.22">TetherUS</text><text x="119.6" y="52" font-size="12.9" fill="#131722" font-weight="normal" text-anchor="start" font-family="Liberation Sans, sans-serif" textLength="3.4" lengthAdjust="spacingAndGlyphs" stroke="#131722" stroke-width="0.22">·</text><text x="126.3" y="52" font-size="12.9" fill="#131722" font-weight="normal" text-anchor="start" font-family="Liberation Sans, sans-serif" textLength="14.7" lengthAdjust="spacingAndGlyphs" stroke="#131722" stroke-width="0.22">1D</text><text x="143.6" y="52" font-size="12.9" fill="#131722" font-weight="normal" text-anchor="start" font-family="Liberation Sans, sans-serif" textLength="3.4" lengthAdjust="spacingAndGlyphs" stroke="#131722" stroke-width="0.22">·</text><text x="151" y="52" font-size="12.9" fill="#131722" font-weight="normal" text-anchor="start" font-family="Liberation Sans, sans-serif" textLength="48.6" lengthAdjust="spacingAndGlyphs" stroke="#131722" stroke-width="0.22">BINANCE</text><circle cx="219.1" cy="47" r="5.6" fill="#089981" fill-opacity="0.16"/><circle cx="219.1" cy="47" r="2.4" fill="#089981"/><text x="239" y="51.2" font-size="10" fill="#131722" font-weight="normal" text-anchor="start" font-family="Liberation Sans, sans-serif" stroke="#131722" stroke-width="0.22">O</text><text x="247" y="51.2" font-size="10" fill="#089981" font-weight="normal" text-anchor="start" font-family="Liberation Sans, sans-serif" textLength="26.3" lengthAdjust="spacingAndGlyphs" stroke="#089981" stroke-width="0.22">4.019</text><text x="277.6" y="51.2" font-size="10" fill="#131722" font-weight="normal" text-anchor="start" font-family="Liberation Sans, sans-serif" stroke="#131722" stroke-width="0.22">H</text><text x="285.1" y="51.2" font-size="10" fill="#089981" font-weight="normal" text-anchor="start" font-family="Liberation Sans, sans-serif" textLength="26.2" lengthAdjust="spacingAndGlyphs" stroke="#089981" stroke-width="0.22">4.285</text><text x="316.8" y="51.2" font-size="10" fill="#131722" font-weight="normal" text-anchor="start" font-family="Liberation Sans, sans-serif" stroke="#131722" stroke-width="0.22">L</text><text x="322.3" y="51.2" font-size="10" fill="#089981" font-weight="normal" text-anchor="start" font-family="Liberation Sans, sans-serif" textLength="26.2" lengthAdjust="spacingAndGlyphs" stroke="#089981" stroke-width="0.22">3.970</text><text x="353.1" y="51.2" font-size="10" fill="#131722" font-weight="normal" text-anchor="start" font-family="Liberation Sans, sans-serif" stroke="#131722" stroke-width="0.22">C</text><text x="359.7" y="51.2" font-size="10" fill="#089981" font-weight="normal" text-anchor="start" font-family="Liberation Sans, sans-serif" textLength="26.2" lengthAdjust="spacingAndGlyphs" stroke="#089981" stroke-width="0.22">4.182</text><text x="391.5" y="51.2" font-size="10" fill="#089981" font-weight="normal" text-anchor="start" font-family="Liberation Sans, sans-serif" textLength="30.6" lengthAdjust="spacingAndGlyphs" stroke="#089981" stroke-width="0.22">+0.163</text><text x="426.2" y="51.2" font-size="10" fill="#089981" font-weight="normal" text-anchor="start" font-family="Liberation Sans, sans-serif" textLength="39.4" lengthAdjust="spacingAndGlyphs" stroke="#089981" stroke-width="0.22">(+4.06%)</text><text x="8.5" y="104.9" font-size="10.4" fill="#131722" font-weight="normal" text-anchor="start" font-family="Liberation Sans, sans-serif" textLength="203.5" lengthAdjust="spacingAndGlyphs" stroke="#131722" stroke-width="0.22">MA Ribbon EMA 20 EMA 50 EMA 100 EMA 200</text><text x="218.6" y="104.9" font-size="10.4" fill="#f23645" font-weight="normal" text-anchor="start" font-family="Liberation Sans, sans-serif" textLength="25.1" lengthAdjust="spacingAndGlyphs" stroke="#f23645" stroke-width="0.22">4.594</text><text x="249.8" y="104.9" font-size="10.4" fill="#4caf50" font-weight="normal" text-anchor="start" font-family="Liberation Sans, sans-serif" textLength="25.1" lengthAdjust="spacingAndGlyphs" stroke="#4caf50" stroke-width="0.22">5.150</text><text x="280" y="104.9" font-size="10.4" fill="#131722" font-weight="normal" text-anchor="start" font-family="Liberation Sans, sans-serif" stroke="#131722" stroke-width="0.22">ø</text><text x="291.2" y="104.9" font-size="10.4" fill="#131722" font-weight="normal" text-anchor="start" font-family="Liberation Sans, sans-serif" stroke="#131722" stroke-width="0.22">ø</text><rect x="9.4" y="113" width="21.6" height="15.5" rx="3" fill="#fff" fill-opacity="0.82" stroke="#e0e3eb" stroke-width="0.8"/><path d="M17.3 122.2 L20.3 119.2 L23.3 122.2" fill="none" stroke="#131722" stroke-width="1.3"/><path d="M8.2 63.6 Q9 60.5 13 60.5 H46 Q50 60.5 51 63.6" fill="none" stroke="#f7525f" stroke-opacity="0.8" stroke-width="1.1"/><path d="M85 63.6 Q86 60.5 90 60.5 H122.5 Q126.5 60.5 127.3 63.6" fill="none" stroke="#2962ff" stroke-opacity="0.75" stroke-width="1.1"/><defs><filter id="sh" x="-5%" y="-20%" width="110%" height="160%"><feDropShadow dx="0" dy="1" stdDeviation="1" flood-color="#000" flood-opacity="0.18"/></filter></defs><path d="M0 63.6 H222.6 a5 5 0 0 1 5 5 V88.5 a5 5 0 0 1 -5 5 H0 Z" fill="#fff" filter="url(#sh)"/><circle cx="1.4" cy="74.5" r="0.7" fill="#9598a1"/><circle cx="1.4" cy="78.3" r="0.7" fill="#9598a1"/><circle cx="1.4" cy="82.7" r="0.7" fill="#9598a1"/><circle cx="6.1" cy="74.5" r="0.7" fill="#9598a1"/><circle cx="6.1" cy="78.3" r="0.7" fill="#9598a1"/><circle cx="6.1" cy="82.7" r="0.7" fill="#9598a1"/><g fill="none" stroke="#2a2e39" stroke-width="1.1" stroke-linecap="round" stroke-linejoin="round"><path d="M23.5 83.5 L27.8 79.3 M30 77.2 L36.9 70.6"/><circle cx="22.3" cy="84.7" r="1.6"/><circle cx="28.9" cy="78.3" r="1.6"/></g><g fill="none" stroke="#2a2e39" stroke-width="1.1" stroke-linecap="round" stroke-linejoin="round"><path d="M53.6 73.2 L63 79.7 L59.3 80.5 L62 85.2 L60.2 86 L57.6 81.3 L55.2 84 Z"/></g><g fill="none" stroke="#2a2e39" stroke-width="1.1" stroke-linecap="round" stroke-linejoin="round"><rect x="83" y="72.2" width="13.8" height="13.3"/><circle cx="83" cy="72.2" r="1.6" fill="#fff"/><circle cx="96.8" cy="72.2" r="1.6" fill="#fff"/><circle cx="83" cy="85.5" r="1.6" fill="#fff"/><circle cx="96.8" cy="85.5" r="1.6" fill="#fff"/></g><g fill="none" stroke="#2a2e39" stroke-width="1.1" stroke-linecap="round" stroke-linejoin="round"><path d="M115.2 84.6 L127 73.2"/><circle cx="114" cy="85.8" r="1.65"/><circle cx="128.2" cy="72" r="1.65"/></g><g fill="none" stroke="#2a2e39" stroke-width="1.1" stroke-linecap="round" stroke-linejoin="round"><path d="M146.5 82 L154.6 73.9 M150.1 87.7 L154 83.8 M156.4 81.4 L160.9 77.1"/><circle cx="145.3" cy="83.2" r="1.6"/><circle cx="155.8" cy="72.7" r="1.6"/><circle cx="155.2" cy="82.6" r="1.6"/></g><g fill="none" stroke="#2a2e39" stroke-width="1.1" stroke-linecap="round" stroke-linejoin="round"><path d="M174.2 86.4 L183.4 76.2 L181.9 72.7 L190.4 70.8 L188.6 79.4 L185.4 78.1 Z"/></g><g fill="none" stroke="#2a2e39" stroke-width="1.1" stroke-linecap="round" stroke-linejoin="round"><path d="M213.6 69.6 L208.2 75.2 L216.6 83.6 L222.5 78.2 M208.2 75.2 C207.6 77 207.8 79 208.7 80.1 C211 82 213.5 83.2 216.6 83.6 M208.7 80.1 L203.8 84.6 L209.7 86.5 L216.6 83.6"/></g><rect x="0" y="0" width="1024" height="1" fill="#9a9a9a"/><rect x="0" y="1" width="1024" height="30" fill="#fff"/><rect x="0" y="31" width="1024" height="4" fill="#ebebeb"/><g fill="none" stroke="#131722" stroke-width="1.2" stroke-linecap="round" stroke-linejoin="round"><circle cx="13" cy="14.6" r="4.4"/><path d="M16.2 17.8 L19 20.6"/></g><text x="22.6" y="19.7" font-size="11.4" fill="#131722" font-weight="bold" text-anchor="start" font-family="Liberation Sans, sans-serif" textLength="48.2" lengthAdjust="spacingAndGlyphs">DOTUSDT</text><g fill="none" stroke="#131722" stroke-width="1" stroke-linecap="round" stroke-linejoin="round"><circle cx="94.5" cy="15.6" r="7.4"/><path d="M94.5 11.6 V19.6 M90.5 15.6 H98.5"/></g><path d="M113.6 7V24.5" stroke="#e0e3eb" stroke-width="1"/><text x="124" y="19.8" font-size="10.4" fill="#131722" font-weight="normal" text-anchor="start" font-family="Liberation Sans, sans-serif" textLength="15.3" lengthAdjust="spacingAndGlyphs" stroke="#131722" stroke-width="0.22">5m</text><text x="148.8" y="19.8" font-size="10.4" fill="#131722" font-weight="normal" text-anchor="start" font-family="Liberation Sans, sans-serif" textLength="21.2" lengthAdjust="spacingAndGlyphs" stroke="#131722" stroke-width="0.22">15m</text><text x="180" y="19.8" font-size="10.4" fill="#131722" font-weight="normal" text-anchor="start" font-family="Liberation Sans, sans-serif" textLength="21" lengthAdjust="spacingAndGlyphs" stroke="#131722" stroke-width="0.22">30m</text><text x="211.3" y="19.8" font-size="10.4" fill="#131722" font-weight="normal" text-anchor="start" font-family="Liberation Sans, sans-serif" textLength="10.7" lengthAdjust="spacingAndGlyphs" stroke="#131722" stroke-width="0.22">1h</text><text x="232.6" y="19.8" font-size="10.4" fill="#131722" font-weight="normal" text-anchor="start" font-family="Liberation Sans, sans-serif" textLength="11.4" lengthAdjust="spacingAndGlyphs" stroke="#131722" stroke-width="0.22">4h</text><text x="254.5" y="19.8" font-size="10.4" fill="#2962ff" font-weight="normal" text-anchor="start" font-family="Liberation Sans, sans-serif" textLength="6.8" lengthAdjust="spacingAndGlyphs" stroke="#2962ff" stroke-width="0.22">D</text><text x="270.8" y="19.8" font-size="10.4" fill="#131722" font-weight="normal" text-anchor="start" font-family="Liberation Sans, sans-serif" textLength="10.9" lengthAdjust="spacingAndGlyphs" stroke="#131722" stroke-width="0.22">W</text><text x="290" y="19.8" font-size="10.4" fill="#131722" font-weight="normal" text-anchor="start" font-family="Liberation Sans, sans-serif" textLength="9" lengthAdjust="spacingAndGlyphs" stroke="#131722" stroke-width="0.22">M</text><path d="M310 15 L312.6 17.4 L315.2 15" fill="none" stroke="#131722" stroke-width="1" stroke-linecap="round" stroke-linejoin="round"/><path d="M325 7V24.5" stroke="#e0e3eb" stroke-width="1"/><g fill="none" stroke="#131722" stroke-width="1" stroke-linecap="round" stroke-linejoin="round"><path d="M340 7.6V24 M347.2 10V22.5"/><rect x="338.5" y="10" width="3" height="11.8" rx="0.6" fill="#fff"/><rect x="345.7" y="13" width="3" height="7.3" rx="0.6" fill="#fff"/></g><path d="M362.5 7V24.5" stroke="#e0e3eb" stroke-width="1"/><g fill="none" stroke="#131722" stroke-width="1" stroke-linecap="round" stroke-linejoin="round"><path d="M374.8 14.5 L379.5 10.5 L383.3 12.8 L388.5 8.8"/><path d="M375 22.5 H388.6 M375.6 22.5 V19.5 H378 V22.5 M379.8 22.5 V17.8 H382.2 V22.5 M384 22.5 V15.5 H386.4 V22.5"/></g><text x="394.9" y="19.9" font-size="10.5" fill="#131722" font-weight="normal" text-anchor="start" font-family="Liberation Sans, sans-serif" textLength="49.1" lengthAdjust="spacingAndGlyphs" stroke="#131722" stroke-width="0.3">Indicators</text><g fill="none" stroke="#2a2e39" stroke-width="0.9" stroke-linecap="round" stroke-linejoin="round"><rect x="461" y="10.2" width="5" height="5" rx="1.5"/><rect x="468.3" y="10.2" width="5" height="5" rx="1.5"/><rect x="461" y="16.8" width="5" height="5" rx="1.5"/><rect x="468.3" y="16.8" width="5" height="5" rx="1.5"/></g><path d="M486.8 7V24.5" stroke="#e0e3eb" stroke-width="1"/><g fill="none" stroke="#131722" stroke-width="1" stroke-linecap="round" stroke-linejoin="round"><path d="M509.5 19.5 A6 6 0 1 1 508.5 12" /><path d="M503.8 13.2 V16.6 H506.6 M498.5 10.5 L500.5 8.5 M509.8 8.5 L511.8 10.5 M510.2 18.8 V23.5 M507.8 21.2 H512.6"/></g><text x="519" y="20" font-size="10.5" fill="#131722" font-weight="normal" text-anchor="start" font-family="Liberation Sans, sans-serif" textLength="24.6" lengthAdjust="spacingAndGlyphs" stroke="#131722" stroke-width="0.3">Alert</text><g fill="none" stroke="#131722" stroke-width="1" stroke-linecap="round" stroke-linejoin="round"><path d="M567 12.8 L561.6 16.6 L567 20.4 Z M573.2 12.8 L567.8 16.6 L573.2 20.4 Z"/></g><text x="580.5" y="20" font-size="10.5" fill="#131722" font-weight="normal" text-anchor="start" font-family="Liberation Sans, sans-serif" textLength="32.8" lengthAdjust="spacingAndGlyphs" stroke="#131722" stroke-width="0.3">Replay</text><path d="M625.6 7V24.5" stroke="#e0e3eb" stroke-width="1"/><g fill="none" stroke="#131722" stroke-width="1.1" stroke-linecap="round" stroke-linejoin="round"><path d="M643 12.5 L639.4 16 L643 19.5 M639.6 16 H645.5 A3.8 3.8 0 0 1 649.2 19.8 V20.5"/></g><g fill="none" stroke="#c1c4cd" stroke-width="1.1" stroke-linecap="round" stroke-linejoin="round"><path d="M676.4 12.5 L680 16 L676.4 19.5 M679.8 16 H673.9 A3.8 3.8 0 0 0 670.2 19.8 V20.5"/></g><rect x="777.3" y="9.3" width="14.6" height="12.8" rx="1.6" fill="none" stroke="#2a2e39" stroke-width="1.1" stroke-linecap="round" stroke-linejoin="round"/><text x="804.1" y="16.2" font-size="10.3" fill="#131722" font-weight="normal" text-anchor="start" font-family="Liberation Sans, sans-serif" textLength="46.8" lengthAdjust="spacingAndGlyphs" stroke="#131722" stroke-width="0.3">Unnamed</text><text x="819.4" y="25.1" font-size="7.3" fill="#2962ff" font-weight="normal" text-anchor="start" font-family="Liberation Sans, sans-serif" textLength="16.4" lengthAdjust="spacingAndGlyphs" stroke="#2962ff" stroke-width="0.22">Save</text><path d="M861.5 14.6 L864.4 17.4 L867.3 14.6" fill="none" stroke="#131722" stroke-width="1" stroke-linecap="round" stroke-linejoin="round"/><path d="M876.7 6.5V24.5" stroke="#e0e3eb" stroke-width="1"/><g fill="none" stroke="#131722" stroke-width="1" stroke-linecap="round" stroke-linejoin="round"><path d="M898.5 11.5 A6 6 0 1 0 897 20 M897 19.6 L902 24.2 M894.5 9 L891.5 15.5 H895 L892.5 21.5"/></g><g fill="none" stroke="#131722" stroke-width="1.1" stroke-linecap="round" stroke-linejoin="round"><path d="M921.9 8.6 H930.3 L934.4 15.8 L930.3 23 H921.9 L917.8 15.8 Z"/><circle cx="926.1" cy="15.8" r="2.5"/></g><g fill="none" stroke="#131722" stroke-width="1.1" stroke-linecap="round" stroke-linejoin="round"><path d="M950.2 13 V10 H953.2 M959.8 10 H962.8 V13 M962.8 19 V22 H959.8 M953.2 22 H950.2 V19"/></g><g fill="none" stroke="#131722" stroke-width="1.1" stroke-linecap="round" stroke-linejoin="round"><path d="M978.5 12 H982 L983.5 9.3 H989.6 L991.1 12 H994.8 V22.2 H978.5 Z"/><circle cx="986.6" cy="16.6" r="3"/></g><rect x="1006.2" y="4.6" width="40" height="22.2" rx="11.1" fill="#2a2a2a"/><text x="1015.7" y="19.7" font-size="10.5" fill="#fff" font-weight="bold" text-anchor="start" font-family="Liberation Sans, sans-serif">Pu</text><text x="979.8" y="49.8" font-size="9.6" fill="#131722" font-weight="normal" text-anchor="start" font-family="Liberation Sans, sans-serif" textLength="29.0" lengthAdjust="spacingAndGlyphs" stroke="#131722" stroke-width="0.32">18.000</text><text x="979.8" y="92.7320437832272" font-size="9.6" fill="#131722" font-weight="normal" text-anchor="start" font-family="Liberation Sans, sans-serif" textLength="29.0" lengthAdjust="spacingAndGlyphs" stroke="#131722" stroke-width="0.32">14.000</text><text x="979.8" y="119.06560441811769" font-size="9.6" fill="#131722" font-weight="normal" text-anchor="start" font-family="Liberation Sans, sans-serif" textLength="29.0" lengthAdjust="spacingAndGlyphs" stroke="#131722" stroke-width="0.32">12.000</text><text x="979.8" y="150.21159596522892" font-size="9.6" fill="#131722" font-weight="normal" text-anchor="start" font-family="Liberation Sans, sans-serif" textLength="29.0" lengthAdjust="spacingAndGlyphs" stroke="#131722" stroke-width="0.32">10.000</text><text x="979.8" y="188.33120883623548" font-size="9.6" fill="#131722" font-weight="normal" text-anchor="start" font-family="Liberation Sans, sans-serif" textLength="23.6" lengthAdjust="spacingAndGlyphs" stroke="#131722" stroke-width="0.32">8.000</text><text x="979.8" y="223.80224152130296" font-size="9.6" fill="#131722" font-weight="normal" text-anchor="start" font-family="Liberation Sans, sans-serif" textLength="23.6" lengthAdjust="spacingAndGlyphs" stroke="#131722" stroke-width="0.32">6.500</text><text x="979.8" y="252.34009080431161" font-size="9.6" fill="#131722" font-weight="normal" text-anchor="start" font-family="Liberation Sans, sans-serif" textLength="23.6" lengthAdjust="spacingAndGlyphs" stroke="#131722" stroke-width="0.32">5.500</text><text x="979.8" y="339.6044321122558" font-size="9.6" fill="#131722" font-weight="normal" text-anchor="start" font-family="Liberation Sans, sans-serif" textLength="23.6" lengthAdjust="spacingAndGlyphs" stroke="#131722" stroke-width="0.32">3.300</text><text x="979.8" y="367.6723223643445" font-size="9.6" fill="#131722" font-weight="normal" text-anchor="start" font-family="Liberation Sans, sans-serif" textLength="23.6" lengthAdjust="spacingAndGlyphs" stroke="#131722" stroke-width="0.32">2.800</text><text x="979.8" y="394.00588299923504" font-size="9.6" fill="#131722" font-weight="normal" text-anchor="start" font-family="Liberation Sans, sans-serif" textLength="23.6" lengthAdjust="spacingAndGlyphs" stroke="#131722" stroke-width="0.32">2.400</text><rect x="972.7" y="252.9" width="35.0" height="14.5" rx="2" fill="#4caf50"/><text x="980.9" y="264.2" font-size="9.6" fill="#fff" font-weight="normal" text-anchor="start" font-family="Liberation Sans, sans-serif" textLength="22.8" lengthAdjust="spacingAndGlyphs" stroke="#fff" stroke-width="0.22">5.150</text><rect x="972.7" y="272.7" width="35.0" height="14.3" rx="2" fill="#f23645"/><text x="980.9" y="284.3" font-size="9.6" fill="#fff" font-weight="normal" text-anchor="start" font-family="Liberation Sans, sans-serif" textLength="22.8" lengthAdjust="spacingAndGlyphs" stroke="#fff" stroke-width="0.22">4.594</text><rect x="972.7" y="289.1" width="49.0" height="25.1" rx="2" fill="#089981"/><text x="980.9" y="299.5" font-size="9.6" fill="#fff" font-weight="normal" text-anchor="start" font-family="Liberation Sans, sans-serif" textLength="22.8" lengthAdjust="spacingAndGlyphs" stroke="#fff" stroke-width="0.22">4.182</text><text x="980.9" y="311.1" font-size="9.6" fill="#fff" font-weight="normal" text-anchor="start" font-family="Liberation Sans, sans-serif" textLength="36.1" lengthAdjust="spacingAndGlyphs" stroke="#fff" stroke-width="0.22">14:02:31</text><text x="33.8" y="419.3" font-size="10.1" fill="#131722" font-weight="normal" text-anchor="middle" font-family="Liberation Sans, sans-serif" textLength="17.3" lengthAdjust="spacingAndGlyphs" stroke="#131722" stroke-width="0.22">May</text><text x="81.8" y="419.3" font-size="10.1" fill="#131722" font-weight="normal" text-anchor="middle" font-family="Liberation Sans, sans-serif" textLength="13.5" lengthAdjust="spacingAndGlyphs" stroke="#131722" stroke-width="0.22">Jul</text><text x="130.5" y="419.3" font-size="10.1" fill="#131722" font-weight="normal" text-anchor="middle" font-family="Liberation Sans, sans-serif" textLength="15.5" lengthAdjust="spacingAndGlyphs" stroke="#131722" stroke-width="0.22">Sep</text><text x="178.5" y="419.3" font-size="10.1" fill="#131722" font-weight="normal" text-anchor="middle" font-family="Liberation Sans, sans-serif" textLength="17.3" lengthAdjust="spacingAndGlyphs" stroke="#131722" stroke-width="0.22">Nov</text><text x="226.5" y="419.3" font-size="10.1" fill="#131722" font-weight="bold" text-anchor="middle" font-family="Liberation Sans, sans-serif" textLength="22.1" lengthAdjust="spacingAndGlyphs">2023</text><text x="272.5" y="419.3" font-size="10.1" fill="#131722" font-weight="normal" text-anchor="middle" font-family="Liberation Sans, sans-serif" textLength="17.0" lengthAdjust="spacingAndGlyphs" stroke="#131722" stroke-width="0.22">Mar</text><text x="320.5" y="419.3" font-size="10.1" fill="#131722" font-weight="normal" text-anchor="middle" font-family="Liberation Sans, sans-serif" textLength="17.3" lengthAdjust="spacingAndGlyphs" stroke="#131722" stroke-width="0.22">May</text><text x="367.5" y="419.3" font-size="10.1" fill="#131722" font-weight="normal" text-anchor="middle" font-family="Liberation Sans, sans-serif" textLength="13.5" lengthAdjust="spacingAndGlyphs" stroke="#131722" stroke-width="0.22">Jul</text><text x="416.3" y="419.3" font-size="10.1" fill="#131722" font-weight="normal" text-anchor="middle" font-family="Liberation Sans, sans-serif" textLength="15.5" lengthAdjust="spacingAndGlyphs" stroke="#131722" stroke-width="0.22">Sep</text><text x="464.3" y="419.3" font-size="10.1" fill="#131722" font-weight="normal" text-anchor="middle" font-family="Liberation Sans, sans-serif" textLength="17.3" lengthAdjust="spacingAndGlyphs" stroke="#131722" stroke-width="0.22">Nov</text><text x="511.8" y="419.3" font-size="10.1" fill="#131722" font-weight="bold" text-anchor="middle" font-family="Liberation Sans, sans-serif" textLength="22.1" lengthAdjust="spacingAndGlyphs">2024</text><text x="559.5" y="419.3" font-size="10.1" fill="#131722" font-weight="normal" text-anchor="middle" font-family="Liberation Sans, sans-serif" textLength="17.0" lengthAdjust="spacingAndGlyphs" stroke="#131722" stroke-width="0.22">Mar</text><text x="607" y="419.3" font-size="10.1" fill="#131722" font-weight="normal" text-anchor="middle" font-family="Liberation Sans, sans-serif" textLength="17.3" lengthAdjust="spacingAndGlyphs" stroke="#131722" stroke-width="0.22">May</text><text x="655" y="419.3" font-size="10.1" fill="#131722" font-weight="normal" text-anchor="middle" font-family="Liberation Sans, sans-serif" textLength="13.5" lengthAdjust="spacingAndGlyphs" stroke="#131722" stroke-width="0.22">Jul</text><text x="703.5" y="419.3" font-size="10.1" fill="#131722" font-weight="normal" text-anchor="middle" font-family="Liberation Sans, sans-serif" textLength="15.5" lengthAdjust="spacingAndGlyphs" stroke="#131722" stroke-width="0.22">Sep</text><text x="751.5" y="419.3" font-size="10.1" fill="#131722" font-weight="normal" text-anchor="middle" font-family="Liberation Sans, sans-serif" textLength="17.3" lengthAdjust="spacingAndGlyphs" stroke="#131722" stroke-width="0.22">Nov</text><text x="798.6" y="419.3" font-size="10.1" fill="#131722" font-weight="bold" text-anchor="middle" font-family="Liberation Sans, sans-serif" textLength="22.1" lengthAdjust="spacingAndGlyphs">2025</text><text x="845.6" y="419.3" font-size="10.1" fill="#131722" font-weight="normal" text-anchor="middle" font-family="Liberation Sans, sans-serif" textLength="17.0" lengthAdjust="spacingAndGlyphs" stroke="#131722" stroke-width="0.22">Mar</text><text x="893.3" y="419.3" font-size="10.1" fill="#131722" font-weight="normal" text-anchor="middle" font-family="Liberation Sans, sans-serif" textLength="17.3" lengthAdjust="spacingAndGlyphs" stroke="#131722" stroke-width="0.22">May</text><text x="940.4" y="419.3" font-size="10.1" fill="#131722" font-weight="normal" text-anchor="middle" font-family="Liberation Sans, sans-serif" textLength="13.5" lengthAdjust="spacingAndGlyphs" stroke="#131722" stroke-width="0.22">Jul</text><g fill="none" stroke="#131722" stroke-width="1" stroke-linecap="round" stroke-linejoin="round"><path d="M996 410.5 H1002 L1004.9 415.9 L1002 421.3 H996 L993.1 415.9 Z"/><circle cx="999" cy="415.9" r="1.8"/></g><path d="M0 427.2 H1024" stroke="#e9eaec" stroke-width="1"/><path d="M11 381.4 H20.5 V392.7 H15.4 V384.6 H11 Z" fill="#131722"/><circle cx="24.9" cy="383.3" r="2.1" fill="#131722"/><path d="M28.2 381.4 H34.4 L29.3 392.7 H23.4 Z" fill="#131722"/><text x="42.5" y="392.7" font-size="15.5" fill="#131722" font-weight="normal" text-anchor="start" font-family="Liberation Sans, sans-serif" textLength="95.2" lengthAdjust="spacingAndGlyphs" stroke="#131722" stroke-width="0.75">TradingView</text><text x="12.7" y="446.8" font-size="10.8" fill="#131722" font-weight="normal" text-anchor="start" font-family="Liberation Sans, sans-serif" textLength="12.7" lengthAdjust="spacingAndGlyphs" stroke="#131722" stroke-width="0.22">1D</text><text x="34.8" y="446.8" font-size="10.8" fill="#131722" font-weight="normal" text-anchor="start" font-family="Liberation Sans, sans-serif" textLength="13.4" lengthAdjust="spacingAndGlyphs" stroke="#131722" stroke-width="0.22">5D</text><text x="58.4" y="446.8" font-size="10.8" fill="#131722" font-weight="normal" text-anchor="start" font-family="Liberation Sans, sans-serif" textLength="13.5" lengthAdjust="spacingAndGlyphs" stroke="#131722" stroke-width="0.22">1M</text><text x="81.3" y="446.8" font-size="10.8" fill="#131722" font-weight="normal" text-anchor="start" font-family="Liberation Sans, sans-serif" textLength="14.2" lengthAdjust="spacingAndGlyphs" stroke="#131722" stroke-width="0.22">3M</text><text x="104.6" y="446.8" font-size="10.8" fill="#131722" font-weight="normal" text-anchor="start" font-family="Liberation Sans, sans-serif" textLength="14.2" lengthAdjust="spacingAndGlyphs" stroke="#131722" stroke-width="0.22">6M</text><text x="128.7" y="446.8" font-size="10.8" fill="#131722" font-weight="normal" text-anchor="start" font-family="Liberation Sans, sans-serif" textLength="19.6" lengthAdjust="spacingAndGlyphs" stroke="#131722" stroke-width="0.22">YTD</text><text x="158.7" y="446.8" font-size="10.8" fill="#131722" font-weight="normal" text-anchor="start" font-family="Liberation Sans, sans-serif" textLength="11.4" lengthAdjust="spacingAndGlyphs" stroke="#131722" stroke-width="0.22">1Y</text><text x="180.8" y="446.8" font-size="10.8" fill="#131722" font-weight="normal" text-anchor="start" font-family="Liberation Sans, sans-serif" textLength="12.7" lengthAdjust="spacingAndGlyphs" stroke="#131722" stroke-width="0.22">5Y</text><text x="202.6" y="446.8" font-size="10.8" fill="#131722" font-weight="normal" text-anchor="start" font-family="Liberation Sans, sans-serif" textLength="12.6" lengthAdjust="spacingAndGlyphs" stroke="#131722" stroke-width="0.22">All</text><path d="M224.7 435V451" stroke="#e0e3eb" stroke-width="1"/><g fill="none" stroke="#131722" stroke-width="1" stroke-linecap="round" stroke-linejoin="round"><path d="M237 444 V436 H250.5 V449.5 H244 M237 439.5 H250.5 M240.5 434 V437.5 M247 434 V437.5 M236 447.5 H242 M240 445.5 L242 447.5 L240 449.5"/></g><text x="949.4" y="446.5" font-size="11.5" fill="#131722" font-weight="normal" text-anchor="start" font-family="Liberation Sans, sans-serif" textLength="67.7" lengthAdjust="spacingAndGlyphs" stroke="#131722" stroke-width="0.32">09:57:29 UTC</text></svg></body></html>
